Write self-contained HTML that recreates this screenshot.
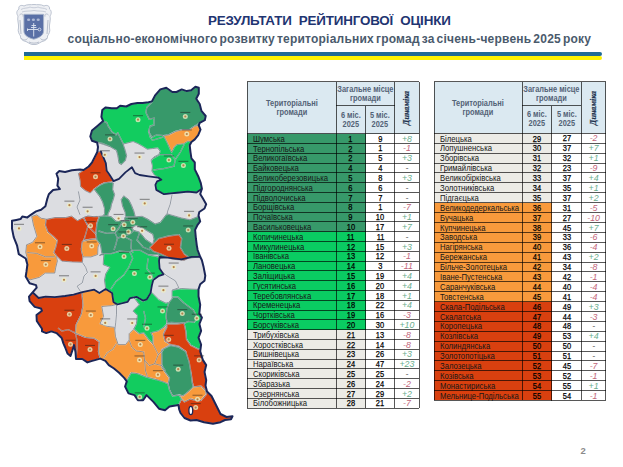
<!DOCTYPE html>
<html><head><meta charset="utf-8">
<style>
html,body{margin:0;padding:0;}
body{width:623px;height:467px;overflow:hidden;background:#fff;position:relative;font-family:"Liberation Sans",sans-serif;}
div{position:absolute;box-sizing:border-box;}
.title{left:208px;top:13.1px;white-space:nowrap;font-weight:bold;color:#1f3572;font-size:13.4px;line-height:16px;letter-spacing:-0.17px;}
.sub{left:67.5px;top:32px;white-space:nowrap;font-weight:bold;color:#4a5a6c;font-size:12px;line-height:14px;letter-spacing:0.22px;word-spacing:-1.6px;}
.hd{background:#dbe9f1;}
.ht{display:flex;align-items:center;justify-content:center;text-align:center;font-weight:bold;font-size:8.8px;line-height:9px;color:#536276;}
.ht span{display:inline-block;white-space:nowrap;transform:scaleX(0.84);}
.dyn{display:flex;align-items:center;justify-content:center;}
.dyn span{transform:rotate(-90deg) scaleX(0.88);font-style:italic;font-weight:bold;font-size:9.2px;color:#22324e;-webkit-text-stroke:0.2px #22324e;font-family:"Liberation Serif",serif;white-space:nowrap;}
.nm{font-size:8.6px;color:#161616;white-space:nowrap;transform:scaleX(0.895);transform-origin:0 50%;}
.n6{text-align:center;font-size:8.8px;color:#000;-webkit-text-stroke:0.25px #000;}
.n6 span,.n5 span{display:inline-block;transform:scaleX(0.85);}
.n5{text-align:center;font-size:8.8px;color:#000;-webkit-text-stroke:0.25px #000;background:#fff;}
.nd{text-align:center;font-size:8.8px;font-style:italic;background:#fff;}
.dp{color:#6aae8e;}
.dm{color:#c2657a;}
.dz{color:#222;}
.vl{width:1px;background:rgba(0,0,0,0.66);}
.hl{height:1px;background:rgba(0,0,0,0.66);}
</style></head><body>
<div class="title">РЕЗУЛЬТАТИ&nbsp; РЕЙТИНГОВОЇ&nbsp; ОЦІНКИ</div>
<div class="sub">соціально-економічного розвитку територіальних громад за січень-червень 2025 року</div>
<div style="left:24px;top:52px;width:578px;height:4px;background:#1f6b95;border-radius:0 2px 2px 0"></div>
<div style="left:24px;top:56px;width:578px;height:4px;background:#fdf200;border-radius:0 2px 2px 0"></div>
<svg style="position:absolute;left:0;top:0" width="60" height="50" viewBox="0 0 60 50">
<path d="M19,9 C18,6 21,4.5 24,6 C27,4 31,5 34,4.5 C37,5 41,4 44,6 C47,4.5 50,6 49.5,9 C52,11 51.5,14 50,16 C51,20 49,24 49.5,28 C50.5,31 49,34 47.5,36 C48,39 45,41 42,41.5 C39,43 37,45 34,44.5 C31,45 29,43 26,41.5 C23,41 20,39 20.5,36 C19,34 17.5,31 18.5,28 C19,24 17,20 18,16 C16.5,14 16,11 19,9 Z" fill="#eef0f4" stroke="#b4bccb" stroke-width="0.9"/>
<path d="M21,9.5 C24,7.5 28,8.5 30,7 C32,8 36,8 38,7 C40,8.5 44,7.5 47,9.5 M22,12 C26,10.5 30,11.5 34,10.5 C38,11.5 42,10.5 46,12" fill="none" stroke="#bcc3d0" stroke-width="0.8"/>
<path d="M19.5,15 C21.5,13 23.5,14 23,16.5 M48.5,15 C46.5,13 44.5,14 45,16.5 M20,20 L21,34 M48,20 L47,34 M21,38 C23,40.5 26,40.5 27.5,38.5 M47,38 C45,40.5 42,40.5 40.5,38.5 M29,42 C31,43.5 37,43.5 39,42" fill="none" stroke="#b0b8c6" stroke-width="0.9"/>
<path d="M23.9,14.3 L43.6,14.3 L43.6,31 C43.6,35.5 39,38 33.75,39.2 C28.5,38 23.9,35.5 23.9,31 Z" fill="#5a70a6" stroke="#a9b5cc" stroke-width="0.9"/>
<ellipse cx="28.6" cy="19.8" rx="1.6" ry="1.2" fill="#aeb9d6"/>
<ellipse cx="33.4" cy="19.8" rx="1.6" ry="1.2" fill="#aeb9d6"/>
<ellipse cx="38.2" cy="19.8" rx="1.6" ry="1.2" fill="#aeb9d6"/>
<path d="M33.7,23 L33.7,36.5 M31.5,25.5 L36,25.5 M31,27.5 L36.5,27.5 M27.5,29.5 L38,29.5 M27.5,28.5 L27.5,31" fill="none" stroke="#dfe5f2" stroke-width="0.9"/>
<circle cx="39.5" cy="29.5" r="1.4" fill="none" stroke="#dfe5f2" stroke-width="0.8"/>
</svg>
<svg style="position:absolute;left:0;top:0" width="623" height="467" viewBox="0 0 623 467">
<defs><clipPath id="ob"><path d="M102.3,110.0 L105.7,107.4 L111.7,108.3 L116.8,108.3 L120.2,105.7 L126.2,106.5 L131.4,104.0 L137.4,103.1 L142.5,103.1 L148.5,102.3 L151.9,101.4 L155.1,95.4 L160.3,89.4 L166.3,87.7 L172.3,92.0 L176.5,92.0 L181.7,89.4 L186.8,91.1 L191.1,90.3 L195.4,86.8 L198.8,87.7 L198.8,93.7 L196.2,98.8 L199.7,104.0 L201.4,110.8 L205.7,116.0 L204.8,120.2 L199.7,122.8 L198.8,125.4 L200.5,129.7 L198.2,135.1 L194.8,139.4 L191.4,142.0 L189.7,145.4 L190.5,152.3 L191.4,158.3 L194.8,162.5 L194.8,169.4 L198.2,176.2 L200.8,183.1 L201.9,188.8 L200.2,194.0 L202.8,198.3 L206.2,204.2 L204.5,208.5 L199.3,212.0 L198.5,215.4 L200.2,221.4 L197.6,224.8 L195.1,229.9 L195.9,238.5 L196.8,245.3 L197.6,250.0 L200.2,256.8 L201.9,260.3 L203.6,267.1 L205.3,275.7 L204.5,280.8 L200.2,284.2 L198.5,289.4 L198.5,296.2 L200.2,304.8 L199.3,313.4 L201.9,317.6 L199.4,324.0 L201.1,330.8 L198.5,337.7 L201.1,344.5 L200.2,351.4 L202.8,359.9 L206.2,365.1 L204.5,371.9 L206.2,380.0 L205.5,385.5 L207.0,391.5 L211.5,396.0 L216.0,405.0 L220.5,414.0 L226.5,417.0 L232.5,416.2 L231.0,419.2 L225.0,420.0 L220.5,422.2 L213.0,423.7 L204.0,422.2 L196.5,420.0 L190.5,420.5 L184.5,418.0 L180.5,413.0 L179.2,409.5 L178.5,405.0 L169.5,406.5 L165.0,410.2 L159.0,408.7 L153.4,401.9 L146.5,395.1 L143.1,400.2 L137.9,400.2 L134.5,395.1 L128.5,393.4 L125.1,386.5 L126.8,381.4 L124.2,377.9 L119.1,372.8 L114.0,368.5 L108.8,365.1 L105.4,360.8 L100.3,358.6 L91.3,361.1 L87.4,362.4 L82.3,359.0 L76.0,359.0 L75.5,352.0 L74.0,345.0 L72.5,350.0 L70.5,356.0 L67.5,353.5 L65.0,347.0 L63.4,343.4 L61.7,338.0 L56.5,333.1 L51.4,331.4 L46.2,333.1 L42.0,331.4 L42.0,328.8 L36.8,321.0 L36.5,315.0 L42.0,310.8 L41.0,308.5 L34.7,306.9 L29.6,301.2 L29.0,296.7 L32.8,292.2 L36.7,287.7 L36.0,285.1 L29.6,283.2 L27.7,280.0 L25.7,276.5 L26.5,271.4 L27.4,264.5 L25.7,258.5 L18.8,254.2 L17.1,245.7 L13.7,237.1 L12.0,228.6 L12.0,220.8 L16.3,219.9 L20.5,219.1 L22.3,216.5 L27.4,217.4 L30.8,214.8 L36.0,211.4 L41.1,209.7 L45.4,206.2 L47.1,199.4 L48.8,194.2 L53.1,190.0 L59.9,189.1 L57.4,185.7 L58.2,178.8 L56.5,173.7 L59.1,171.1 L65.1,172.0 L71.9,170.3 L80.0,169.4 L83.6,170.0 L88.7,166.5 L92.1,162.3 L94.7,157.1 L97.3,152.0 L98.0,147.0 L97.1,142.5 L92.0,140.8 L90.3,136.5 L92.0,130.5 L97.1,126.2 L103.1,121.1 L101.4,116.8Z"/></clipPath></defs>
<path d="M102.3,110.0 L105.7,107.4 L111.7,108.3 L116.8,108.3 L120.2,105.7 L126.2,106.5 L131.4,104.0 L137.4,103.1 L142.5,103.1 L148.5,102.3 L151.9,101.4 L155.1,95.4 L160.3,89.4 L166.3,87.7 L172.3,92.0 L176.5,92.0 L181.7,89.4 L186.8,91.1 L191.1,90.3 L195.4,86.8 L198.8,87.7 L198.8,93.7 L196.2,98.8 L199.7,104.0 L201.4,110.8 L205.7,116.0 L204.8,120.2 L199.7,122.8 L198.8,125.4 L200.5,129.7 L198.2,135.1 L194.8,139.4 L191.4,142.0 L189.7,145.4 L190.5,152.3 L191.4,158.3 L194.8,162.5 L194.8,169.4 L198.2,176.2 L200.8,183.1 L201.9,188.8 L200.2,194.0 L202.8,198.3 L206.2,204.2 L204.5,208.5 L199.3,212.0 L198.5,215.4 L200.2,221.4 L197.6,224.8 L195.1,229.9 L195.9,238.5 L196.8,245.3 L197.6,250.0 L200.2,256.8 L201.9,260.3 L203.6,267.1 L205.3,275.7 L204.5,280.8 L200.2,284.2 L198.5,289.4 L198.5,296.2 L200.2,304.8 L199.3,313.4 L201.9,317.6 L199.4,324.0 L201.1,330.8 L198.5,337.7 L201.1,344.5 L200.2,351.4 L202.8,359.9 L206.2,365.1 L204.5,371.9 L206.2,380.0 L205.5,385.5 L207.0,391.5 L211.5,396.0 L216.0,405.0 L220.5,414.0 L226.5,417.0 L232.5,416.2 L231.0,419.2 L225.0,420.0 L220.5,422.2 L213.0,423.7 L204.0,422.2 L196.5,420.0 L190.5,420.5 L184.5,418.0 L180.5,413.0 L179.2,409.5 L178.5,405.0 L169.5,406.5 L165.0,410.2 L159.0,408.7 L153.4,401.9 L146.5,395.1 L143.1,400.2 L137.9,400.2 L134.5,395.1 L128.5,393.4 L125.1,386.5 L126.8,381.4 L124.2,377.9 L119.1,372.8 L114.0,368.5 L108.8,365.1 L105.4,360.8 L100.3,358.6 L91.3,361.1 L87.4,362.4 L82.3,359.0 L76.0,359.0 L75.5,352.0 L74.0,345.0 L72.5,350.0 L70.5,356.0 L67.5,353.5 L65.0,347.0 L63.4,343.4 L61.7,338.0 L56.5,333.1 L51.4,331.4 L46.2,333.1 L42.0,331.4 L42.0,328.8 L36.8,321.0 L36.5,315.0 L42.0,310.8 L41.0,308.5 L34.7,306.9 L29.6,301.2 L29.0,296.7 L32.8,292.2 L36.7,287.7 L36.0,285.1 L29.6,283.2 L27.7,280.0 L25.7,276.5 L26.5,271.4 L27.4,264.5 L25.7,258.5 L18.8,254.2 L17.1,245.7 L13.7,237.1 L12.0,228.6 L12.0,220.8 L16.3,219.9 L20.5,219.1 L22.3,216.5 L27.4,217.4 L30.8,214.8 L36.0,211.4 L41.1,209.7 L45.4,206.2 L47.1,199.4 L48.8,194.2 L53.1,190.0 L59.9,189.1 L57.4,185.7 L58.2,178.8 L56.5,173.7 L59.1,171.1 L65.1,172.0 L71.9,170.3 L80.0,169.4 L83.6,170.0 L88.7,166.5 L92.1,162.3 L94.7,157.1 L97.3,152.0 L98.0,147.0 L97.1,142.5 L92.0,140.8 L90.3,136.5 L92.0,130.5 L97.1,126.2 L103.1,121.1 L101.4,116.8Z" fill="#dcdde1" stroke="none"/>
<g clip-path="url(#ob)">
<path d="M102.3,110.0 L105.7,107.4 L111.7,108.3 L116.8,108.3 L120.2,105.7 L126.2,106.5 L131.4,104.0 L137.4,103.1 L142.5,103.1 L148.5,102.3 L151.9,101.4 L160.0,95.0 L206.0,118.0 L201.0,130.0 L195.0,140.0 L189.0,146.0 L191.0,158.0 L195.0,163.0 L195.0,170.0 L199.0,177.0 L202.0,184.0 L202.5,189.0 L196.5,192.5 L187.9,191.6 L179.4,192.5 L170.8,193.4 L164.0,194.2 L156.3,189.9 L155.4,184.8 L157.1,181.4 L161.4,179.7 L158.8,178.2 L154.3,175.0 L151.8,171.1 L152.4,166.0 L151.1,160.8 L153.7,157.0 L158.8,154.4 L160.1,151.2 L157.6,148.0 L152.4,148.6 L147.3,149.3 L142.1,146.1 L137.6,143.5 L133.1,141.6 L128.0,142.9 L123.5,144.1 L110.0,146.7 L92.0,140.8 L90.3,136.5 L92.0,130.5 L97.1,126.2 L103.1,121.1 L101.4,116.8Z" fill="#12cc5f" stroke="none"/>
<path d="M102.3,110.0 L105.7,107.4 L111.7,108.3 L116.8,108.3 L120.2,105.7 L126.2,106.5 L131.4,104.0 L137.4,103.1 L142.5,103.1 L148.5,102.3 L151.9,101.4 L160.0,95.0 L206.0,118.0 L201.0,130.0 L195.0,140.0 L189.0,146.0 L191.0,158.0 L195.0,163.0 L195.0,170.0 L199.0,177.0 L202.0,184.0 L202.5,189.0 L196.5,192.5 L187.9,191.6 L179.4,192.5 L170.8,193.4 L164.0,194.2 L156.3,189.9 L155.4,184.8 L157.1,181.4 L161.4,179.7 L158.8,178.2 L154.3,175.0 L151.8,171.1 L152.4,166.0 L151.1,160.8 L153.7,157.0 L158.8,154.4 L160.1,151.2 L157.6,148.0 L152.4,148.6 L147.3,149.3 L142.1,146.1 L137.6,143.5 L133.1,141.6 L128.0,142.9 L123.5,144.1 L110.0,146.7 L92.0,140.8 L90.3,136.5 L92.0,130.5 L97.1,126.2 L103.1,121.1 L101.4,116.8Z" fill="none" stroke="#ffffff" stroke-opacity="0.55" stroke-width="1.3" stroke-linejoin="round"/>
<path d="M102.3,110.0 L105.7,107.4 L111.7,108.3 L116.8,108.3 L120.2,105.7 L126.2,106.5 L131.4,104.0 L137.4,103.1 L142.5,103.1 L148.5,102.3 L151.9,101.4 L160.0,95.0 L206.0,118.0 L201.0,130.0 L195.0,140.0 L189.0,146.0 L191.0,158.0 L195.0,163.0 L195.0,170.0 L199.0,177.0 L202.0,184.0 L202.5,189.0 L196.5,192.5 L187.9,191.6 L179.4,192.5 L170.8,193.4 L164.0,194.2 L156.3,189.9 L155.4,184.8 L157.1,181.4 L161.4,179.7 L158.8,178.2 L154.3,175.0 L151.8,171.1 L152.4,166.0 L151.1,160.8 L153.7,157.0 L158.8,154.4 L160.1,151.2 L157.6,148.0 L152.4,148.6 L147.3,149.3 L142.1,146.1 L137.6,143.5 L133.1,141.6 L128.0,142.9 L123.5,144.1 L110.0,146.7 L92.0,140.8 L90.3,136.5 L92.0,130.5 L97.1,126.2 L103.1,121.1 L101.4,116.8Z" fill="none" stroke="#56606e" stroke-width="0.6" stroke-linejoin="round"/>
<path d="M150.0,100.5 L155.1,95.4 L160.3,89.4 L166.3,87.7 L172.3,92.0 L176.5,92.0 L181.7,89.4 L186.8,91.1 L191.1,90.3 L195.4,86.8 L198.8,87.7 L198.8,93.7 L196.2,98.8 L199.7,104.0 L201.4,110.8 L205.7,116.0 L204.8,120.2 L199.7,122.8 L194.5,126.2 L189.4,129.7 L182.5,129.7 L175.7,131.4 L168.8,134.8 L163.7,135.7 L156.8,134.8 L151.9,137.4 L148.5,131.4 L150.2,126.0 L154.0,125.0 L154.0,118.0 L149.3,119.4 L145.9,112.5 L146.8,107.4 L151.9,102.3Z" fill="#37996a" stroke="none"/>
<path d="M150.0,100.5 L155.1,95.4 L160.3,89.4 L166.3,87.7 L172.3,92.0 L176.5,92.0 L181.7,89.4 L186.8,91.1 L191.1,90.3 L195.4,86.8 L198.8,87.7 L198.8,93.7 L196.2,98.8 L199.7,104.0 L201.4,110.8 L205.7,116.0 L204.8,120.2 L199.7,122.8 L194.5,126.2 L189.4,129.7 L182.5,129.7 L175.7,131.4 L168.8,134.8 L163.7,135.7 L156.8,134.8 L151.9,137.4 L148.5,131.4 L150.2,126.0 L154.0,125.0 L154.0,118.0 L149.3,119.4 L145.9,112.5 L146.8,107.4 L151.9,102.3Z" fill="none" stroke="#ffffff" stroke-opacity="0.55" stroke-width="1.3" stroke-linejoin="round"/>
<path d="M150.0,100.5 L155.1,95.4 L160.3,89.4 L166.3,87.7 L172.3,92.0 L176.5,92.0 L181.7,89.4 L186.8,91.1 L191.1,90.3 L195.4,86.8 L198.8,87.7 L198.8,93.7 L196.2,98.8 L199.7,104.0 L201.4,110.8 L205.7,116.0 L204.8,120.2 L199.7,122.8 L194.5,126.2 L189.4,129.7 L182.5,129.7 L175.7,131.4 L168.8,134.8 L163.7,135.7 L156.8,134.8 L151.9,137.4 L148.5,131.4 L150.2,126.0 L154.0,125.0 L154.0,118.0 L149.3,119.4 L145.9,112.5 L146.8,107.4 L151.9,102.3Z" fill="none" stroke="#56606e" stroke-width="0.6" stroke-linejoin="round"/>
<path d="M198.8,125.4 L200.5,129.7 L198.2,135.1 L194.8,139.4 L191.4,142.0 L187.9,141.1 L183.7,143.7 L176.8,144.6 L174.2,147.1 L171.7,152.3 L170.0,148.8 L167.4,142.8 L163.7,135.7 L168.8,134.8 L175.7,131.4 L182.5,129.7 L189.4,129.7 L194.5,126.2Z" fill="#f89a3c" stroke="none"/>
<path d="M198.8,125.4 L200.5,129.7 L198.2,135.1 L194.8,139.4 L191.4,142.0 L187.9,141.1 L183.7,143.7 L176.8,144.6 L174.2,147.1 L171.7,152.3 L170.0,148.8 L167.4,142.8 L163.7,135.7 L168.8,134.8 L175.7,131.4 L182.5,129.7 L189.4,129.7 L194.5,126.2Z" fill="none" stroke="#ffffff" stroke-opacity="0.55" stroke-width="1.3" stroke-linejoin="round"/>
<path d="M198.8,125.4 L200.5,129.7 L198.2,135.1 L194.8,139.4 L191.4,142.0 L187.9,141.1 L183.7,143.7 L176.8,144.6 L174.2,147.1 L171.7,152.3 L170.0,148.8 L167.4,142.8 L163.7,135.7 L168.8,134.8 L175.7,131.4 L182.5,129.7 L189.4,129.7 L194.5,126.2Z" fill="none" stroke="#56606e" stroke-width="0.6" stroke-linejoin="round"/>
<path d="M103.1,121.1 L106.7,122.3 L108.3,126.2 L111.7,131.4 L116.0,134.8 L117.7,132.6 L120.3,137.7 L122.9,142.9 L125.4,150.6 L126.7,155.7 L125.4,160.8 L121.6,164.7 L119.0,163.4 L117.7,155.7 L116.4,150.6 L110.0,146.7 L102.3,143.4 L97.1,142.5 L92.0,140.8 L90.3,136.5 L92.0,130.5 L97.1,126.2Z" fill="#37996a" stroke="none"/>
<path d="M103.1,121.1 L106.7,122.3 L108.3,126.2 L111.7,131.4 L116.0,134.8 L117.7,132.6 L120.3,137.7 L122.9,142.9 L125.4,150.6 L126.7,155.7 L125.4,160.8 L121.6,164.7 L119.0,163.4 L117.7,155.7 L116.4,150.6 L110.0,146.7 L102.3,143.4 L97.1,142.5 L92.0,140.8 L90.3,136.5 L92.0,130.5 L97.1,126.2Z" fill="none" stroke="#ffffff" stroke-opacity="0.55" stroke-width="1.3" stroke-linejoin="round"/>
<path d="M103.1,121.1 L106.7,122.3 L108.3,126.2 L111.7,131.4 L116.0,134.8 L117.7,132.6 L120.3,137.7 L122.9,142.9 L125.4,150.6 L126.7,155.7 L125.4,160.8 L121.6,164.7 L119.0,163.4 L117.7,155.7 L116.4,150.6 L110.0,146.7 L102.3,143.4 L97.1,142.5 L92.0,140.8 L90.3,136.5 L92.0,130.5 L97.1,126.2Z" fill="none" stroke="#56606e" stroke-width="0.6" stroke-linejoin="round"/>
<path d="M97.3,152.0 L100.7,151.1 L103.3,157.1 L105.8,163.1 L106.7,170.8 L109.2,174.2 L111.8,178.5 L113.5,181.1 L110.8,182.2 L104.4,182.9 L99.3,185.4 L94.1,189.3 L90.3,193.1 L85.1,190.6 L80.5,186.7 L80.1,181.1 L78.4,173.4 L83.6,170.0 L88.7,166.5 L92.1,162.3 L94.7,157.1Z" fill="#d9400f" stroke="none"/>
<path d="M97.3,152.0 L100.7,151.1 L103.3,157.1 L105.8,163.1 L106.7,170.8 L109.2,174.2 L111.8,178.5 L113.5,181.1 L110.8,182.2 L104.4,182.9 L99.3,185.4 L94.1,189.3 L90.3,193.1 L85.1,190.6 L80.5,186.7 L80.1,181.1 L78.4,173.4 L83.6,170.0 L88.7,166.5 L92.1,162.3 L94.7,157.1Z" fill="none" stroke="#ffffff" stroke-opacity="0.55" stroke-width="1.3" stroke-linejoin="round"/>
<path d="M97.3,152.0 L100.7,151.1 L103.3,157.1 L105.8,163.1 L106.7,170.8 L109.2,174.2 L111.8,178.5 L113.5,181.1 L110.8,182.2 L104.4,182.9 L99.3,185.4 L94.1,189.3 L90.3,193.1 L85.1,190.6 L80.5,186.7 L80.1,181.1 L78.4,173.4 L83.6,170.0 L88.7,166.5 L92.1,162.3 L94.7,157.1Z" fill="none" stroke="#56606e" stroke-width="0.6" stroke-linejoin="round"/>
<path d="M94.1,189.3 L99.3,185.4 L104.4,182.9 L110.8,182.2 L113.4,182.9 L112.8,189.3 L114.7,194.4 L113.4,199.6 L111.5,204.7 L110.8,208.6 L108.3,213.7 L107.6,217.6 L100.6,218.8 L104.4,213.7 L104.4,208.6 L102.5,202.1 L99.9,197.0 L95.4,191.2Z" fill="#37996a" stroke="none"/>
<path d="M94.1,189.3 L99.3,185.4 L104.4,182.9 L110.8,182.2 L113.4,182.9 L112.8,189.3 L114.7,194.4 L113.4,199.6 L111.5,204.7 L110.8,208.6 L108.3,213.7 L107.6,217.6 L100.6,218.8 L104.4,213.7 L104.4,208.6 L102.5,202.1 L99.9,197.0 L95.4,191.2Z" fill="none" stroke="#ffffff" stroke-opacity="0.55" stroke-width="1.3" stroke-linejoin="round"/>
<path d="M94.1,189.3 L99.3,185.4 L104.4,182.9 L110.8,182.2 L113.4,182.9 L112.8,189.3 L114.7,194.4 L113.4,199.6 L111.5,204.7 L110.8,208.6 L108.3,213.7 L107.6,217.6 L100.6,218.8 L104.4,213.7 L104.4,208.6 L102.5,202.1 L99.9,197.0 L95.4,191.2Z" fill="none" stroke="#56606e" stroke-width="0.6" stroke-linejoin="round"/>
<path d="M123.7,195.7 L128.8,199.6 L131.4,204.7 L133.9,210.9 L135.6,217.5 L125.5,218.5 L125.0,212.4 L122.4,206.0 L121.1,199.6Z" fill="#37996a" stroke="none"/>
<path d="M123.7,195.7 L128.8,199.6 L131.4,204.7 L133.9,210.9 L135.6,217.5 L125.5,218.5 L125.0,212.4 L122.4,206.0 L121.1,199.6Z" fill="none" stroke="#ffffff" stroke-opacity="0.55" stroke-width="1.3" stroke-linejoin="round"/>
<path d="M123.7,195.7 L128.8,199.6 L131.4,204.7 L133.9,210.9 L135.6,217.5 L125.5,218.5 L125.0,212.4 L122.4,206.0 L121.1,199.6Z" fill="none" stroke="#56606e" stroke-width="0.6" stroke-linejoin="round"/>
<path d="M31.7,216.5 L33.4,225.0 L36.8,236.3 L32.5,242.3 L26.5,244.8 L25.7,252.5 L27.4,258.5 L26.5,271.4 L25.7,276.5 L30.0,279.9 L39.4,277.4 L45.4,273.1 L54.8,273.1 L55.7,267.9 L57.4,261.1 L56.5,256.0 L53.9,252.5 L55.7,247.4 L57.4,240.5 L53.1,236.3 L47.9,232.0 L45.4,225.1 L46.2,219.1 L41.1,218.2 L36.8,214.8Z" fill="#f89a3c" stroke="none"/>
<path d="M31.7,216.5 L33.4,225.0 L36.8,236.3 L32.5,242.3 L26.5,244.8 L25.7,252.5 L27.4,258.5 L26.5,271.4 L25.7,276.5 L30.0,279.9 L39.4,277.4 L45.4,273.1 L54.8,273.1 L55.7,267.9 L57.4,261.1 L56.5,256.0 L53.9,252.5 L55.7,247.4 L57.4,240.5 L53.1,236.3 L47.9,232.0 L45.4,225.1 L46.2,219.1 L41.1,218.2 L36.8,214.8Z" fill="none" stroke="#ffffff" stroke-opacity="0.55" stroke-width="1.3" stroke-linejoin="round"/>
<path d="M31.7,216.5 L33.4,225.0 L36.8,236.3 L32.5,242.3 L26.5,244.8 L25.7,252.5 L27.4,258.5 L26.5,271.4 L25.7,276.5 L30.0,279.9 L39.4,277.4 L45.4,273.1 L54.8,273.1 L55.7,267.9 L57.4,261.1 L56.5,256.0 L53.9,252.5 L55.7,247.4 L57.4,240.5 L53.1,236.3 L47.9,232.0 L45.4,225.1 L46.2,219.1 L41.1,218.2 L36.8,214.8Z" fill="none" stroke="#56606e" stroke-width="0.6" stroke-linejoin="round"/>
<path d="M46.2,219.1 L47.5,219.0 L55.0,217.5 L65.5,217.5 L71.5,216.0 L77.5,220.5 L83.5,217.5 L88.0,216.0 L94.0,216.7 L96.8,216.3 L96.0,225.0 L90.0,226.0 L82.3,243.4 L81.4,248.6 L83.1,256.3 L82.3,262.3 L71.9,262.0 L61.6,261.1 L56.5,256.0 L53.9,252.5 L55.7,247.4 L57.4,240.5 L53.1,236.3 L47.9,232.0 L45.4,225.1Z" fill="#d9400f" stroke="none"/>
<path d="M46.2,219.1 L47.5,219.0 L55.0,217.5 L65.5,217.5 L71.5,216.0 L77.5,220.5 L83.5,217.5 L88.0,216.0 L94.0,216.7 L96.8,216.3 L96.0,225.0 L90.0,226.0 L82.3,243.4 L81.4,248.6 L83.1,256.3 L82.3,262.3 L71.9,262.0 L61.6,261.1 L56.5,256.0 L53.9,252.5 L55.7,247.4 L57.4,240.5 L53.1,236.3 L47.9,232.0 L45.4,225.1Z" fill="none" stroke="#ffffff" stroke-opacity="0.55" stroke-width="1.3" stroke-linejoin="round"/>
<path d="M46.2,219.1 L47.5,219.0 L55.0,217.5 L65.5,217.5 L71.5,216.0 L77.5,220.5 L83.5,217.5 L88.0,216.0 L94.0,216.7 L96.8,216.3 L96.0,225.0 L90.0,226.0 L82.3,243.4 L81.4,248.6 L83.1,256.3 L82.3,262.3 L71.9,262.0 L61.6,261.1 L56.5,256.0 L53.9,252.5 L55.7,247.4 L57.4,240.5 L53.1,236.3 L47.9,232.0 L45.4,225.1Z" fill="none" stroke="#56606e" stroke-width="0.6" stroke-linejoin="round"/>
<path d="M83.5,217.5 L88.0,216.0 L94.0,216.7 L99.4,216.3 L96.8,224.0 L96.0,234.2 L96.5,239.0 L90.0,239.5 L84.0,240.0 L88.0,226.0Z" fill="#d9400f" stroke="none"/>
<path d="M83.5,217.5 L88.0,216.0 L94.0,216.7 L99.4,216.3 L96.8,224.0 L96.0,234.2 L96.5,239.0 L90.0,239.5 L84.0,240.0 L88.0,226.0Z" fill="none" stroke="#ffffff" stroke-opacity="0.55" stroke-width="1.3" stroke-linejoin="round"/>
<path d="M83.5,217.5 L88.0,216.0 L94.0,216.7 L99.4,216.3 L96.8,224.0 L96.0,234.2 L96.5,239.0 L90.0,239.5 L84.0,240.0 L88.0,226.0Z" fill="none" stroke="#56606e" stroke-width="0.6" stroke-linejoin="round"/>
<path d="M82.3,241.5 L90.0,239.5 L96.5,239.0 L100.2,242.0 L98.0,247.0 L97.7,254.6 L90.8,257.0 L83.1,257.0 L81.4,250.0Z" fill="#f89a3c" stroke="none"/>
<path d="M82.3,241.5 L90.0,239.5 L96.5,239.0 L100.2,242.0 L98.0,247.0 L97.7,254.6 L90.8,257.0 L83.1,257.0 L81.4,250.0Z" fill="none" stroke="#ffffff" stroke-opacity="0.55" stroke-width="1.3" stroke-linejoin="round"/>
<path d="M82.3,241.5 L90.0,239.5 L96.5,239.0 L100.2,242.0 L98.0,247.0 L97.7,254.6 L90.8,257.0 L83.1,257.0 L81.4,250.0Z" fill="none" stroke="#56606e" stroke-width="0.6" stroke-linejoin="round"/>
<path d="M99.4,216.3 L106.8,215.6 L111.5,216.8 L116.0,221.0 L124.0,220.5 L125.0,217.0 L135.6,216.8 L142.1,216.2 L148.0,219.1 L155.1,223.8 L160.2,222.3 L166.8,213.7 L172.8,215.4 L181.4,217.9 L189.9,219.7 L198.5,216.2 L200.2,221.4 L197.6,224.8 L195.1,229.9 L195.9,238.5 L196.8,245.3 L197.6,250.0 L200.2,256.8 L181.4,259.4 L167.7,257.7 L160.0,258.6 L158.5,254.8 L148.2,254.8 L141.4,253.1 L134.5,251.4 L129.4,253.1 L119.1,251.4 L110.5,254.8 L102.0,254.8 L100.3,244.5 L96.8,240.2 L96.0,234.2 L96.8,224.0Z" fill="#37996a" stroke="none"/>
<path d="M99.4,216.3 L106.8,215.6 L111.5,216.8 L116.0,221.0 L124.0,220.5 L125.0,217.0 L135.6,216.8 L142.1,216.2 L148.0,219.1 L155.1,223.8 L160.2,222.3 L166.8,213.7 L172.8,215.4 L181.4,217.9 L189.9,219.7 L198.5,216.2 L200.2,221.4 L197.6,224.8 L195.1,229.9 L195.9,238.5 L196.8,245.3 L197.6,250.0 L200.2,256.8 L181.4,259.4 L167.7,257.7 L160.0,258.6 L158.5,254.8 L148.2,254.8 L141.4,253.1 L134.5,251.4 L129.4,253.1 L119.1,251.4 L110.5,254.8 L102.0,254.8 L100.3,244.5 L96.8,240.2 L96.0,234.2 L96.8,224.0Z" fill="none" stroke="#ffffff" stroke-opacity="0.55" stroke-width="1.3" stroke-linejoin="round"/>
<path d="M99.4,216.3 L106.8,215.6 L111.5,216.8 L116.0,221.0 L124.0,220.5 L125.0,217.0 L135.6,216.8 L142.1,216.2 L148.0,219.1 L155.1,223.8 L160.2,222.3 L166.8,213.7 L172.8,215.4 L181.4,217.9 L189.9,219.7 L198.5,216.2 L200.2,221.4 L197.6,224.8 L195.1,229.9 L195.9,238.5 L196.8,245.3 L197.6,250.0 L200.2,256.8 L181.4,259.4 L167.7,257.7 L160.0,258.6 L158.5,254.8 L148.2,254.8 L141.4,253.1 L134.5,251.4 L129.4,253.1 L119.1,251.4 L110.5,254.8 L102.0,254.8 L100.3,244.5 L96.8,240.2 L96.0,234.2 L96.8,224.0Z" fill="none" stroke="#56606e" stroke-width="0.6" stroke-linejoin="round"/>
<path d="M131.5,227.4 L136.2,225.6 L142.1,228.0 L148.0,231.5 L152.7,234.4 L153.9,239.2 L152.7,243.9 L145.6,239.2 L139.8,232.1 L133.9,230.3Z" fill="#dcdde1" stroke="none"/>
<path d="M131.5,227.4 L136.2,225.6 L142.1,228.0 L148.0,231.5 L152.7,234.4 L153.9,239.2 L152.7,243.9 L145.6,239.2 L139.8,232.1 L133.9,230.3Z" fill="none" stroke="#ffffff" stroke-opacity="0.55" stroke-width="1.3" stroke-linejoin="round"/>
<path d="M131.5,227.4 L136.2,225.6 L142.1,228.0 L148.0,231.5 L152.7,234.4 L153.9,239.2 L152.7,243.9 L145.6,239.2 L139.8,232.1 L133.9,230.3Z" fill="none" stroke="#56606e" stroke-width="0.6" stroke-linejoin="round"/>
<path d="M149.6,247.6 L158.6,238.6 L168.8,236.0 L179.1,234.7 L181.7,238.6 L180.4,247.6 L184.3,254.0 L189.4,257.8 L184.3,260.4 L171.4,259.1 L161.1,254.0 L153.4,251.4Z" fill="#d9400f" stroke="none"/>
<path d="M149.6,247.6 L158.6,238.6 L168.8,236.0 L179.1,234.7 L181.7,238.6 L180.4,247.6 L184.3,254.0 L189.4,257.8 L184.3,260.4 L171.4,259.1 L161.1,254.0 L153.4,251.4Z" fill="none" stroke="#ffffff" stroke-opacity="0.55" stroke-width="1.3" stroke-linejoin="round"/>
<path d="M149.6,247.6 L158.6,238.6 L168.8,236.0 L179.1,234.7 L181.7,238.6 L180.4,247.6 L184.3,254.0 L189.4,257.8 L184.3,260.4 L171.4,259.1 L161.1,254.0 L153.4,251.4Z" fill="none" stroke="#56606e" stroke-width="0.6" stroke-linejoin="round"/>
<path d="M99.4,255.4 L102.8,253.7 L111.4,253.7 L119.9,251.1 L128.5,252.0 L133.6,250.3 L140.0,250.3 L148.2,254.8 L159.6,257.0 L159.0,260.8 L159.6,268.5 L163.5,274.3 L158.3,276.2 L153.2,280.1 L151.9,285.2 L150.6,292.9 L146.8,299.3 L142.9,300.6 L136.5,296.8 L130.1,298.1 L127.5,301.9 L117.3,304.5 L113.4,301.9 L112.1,292.9 L105.7,289.1 L104.4,280.1 L105.7,273.7 L109.6,267.3 L103.1,264.7 L103.8,254.4Z" fill="#12cc5f" stroke="none"/>
<path d="M99.4,255.4 L102.8,253.7 L111.4,253.7 L119.9,251.1 L128.5,252.0 L133.6,250.3 L140.0,250.3 L148.2,254.8 L159.6,257.0 L159.0,260.8 L159.6,268.5 L163.5,274.3 L158.3,276.2 L153.2,280.1 L151.9,285.2 L150.6,292.9 L146.8,299.3 L142.9,300.6 L136.5,296.8 L130.1,298.1 L127.5,301.9 L117.3,304.5 L113.4,301.9 L112.1,292.9 L105.7,289.1 L104.4,280.1 L105.7,273.7 L109.6,267.3 L103.1,264.7 L103.8,254.4Z" fill="none" stroke="#ffffff" stroke-opacity="0.55" stroke-width="1.3" stroke-linejoin="round"/>
<path d="M99.4,255.4 L102.8,253.7 L111.4,253.7 L119.9,251.1 L128.5,252.0 L133.6,250.3 L140.0,250.3 L148.2,254.8 L159.6,257.0 L159.0,260.8 L159.6,268.5 L163.5,274.3 L158.3,276.2 L153.2,280.1 L151.9,285.2 L150.6,292.9 L146.8,299.3 L142.9,300.6 L136.5,296.8 L130.1,298.1 L127.5,301.9 L117.3,304.5 L113.4,301.9 L112.1,292.9 L105.7,289.1 L104.4,280.1 L105.7,273.7 L109.6,267.3 L103.1,264.7 L103.8,254.4Z" fill="none" stroke="#56606e" stroke-width="0.6" stroke-linejoin="round"/>
<path d="M32.8,292.5 L38.6,298.0 L45.6,296.7 L54.8,297.2 L65.1,296.0 L73.6,294.6 L82.3,292.2 L82.3,296.3 L83.1,305.7 L81.4,314.2 L76.3,324.5 L75.4,333.1 L85.7,337.4 L94.2,338.2 L99.4,341.6 L98.5,351.9 L100.3,358.6 L91.3,361.1 L87.4,362.4 L82.3,359.0 L76.0,359.0 L75.5,352.0 L74.0,345.0 L72.5,350.0 L70.5,356.0 L67.5,353.5 L65.0,347.0 L63.4,343.4 L61.7,338.0 L56.5,333.1 L51.4,331.4 L46.2,333.1 L42.0,331.4 L42.0,328.8 L36.8,321.0 L36.5,315.0 L42.0,310.8 L41.0,308.5 L34.7,306.9 L29.6,301.2 L29.0,296.7Z" fill="#d9400f" stroke="none"/>
<path d="M32.8,292.5 L38.6,298.0 L45.6,296.7 L54.8,297.2 L65.1,296.0 L73.6,294.6 L82.3,292.2 L82.3,296.3 L83.1,305.7 L81.4,314.2 L76.3,324.5 L75.4,333.1 L85.7,337.4 L94.2,338.2 L99.4,341.6 L98.5,351.9 L100.3,358.6 L91.3,361.1 L87.4,362.4 L82.3,359.0 L76.0,359.0 L75.5,352.0 L74.0,345.0 L72.5,350.0 L70.5,356.0 L67.5,353.5 L65.0,347.0 L63.4,343.4 L61.7,338.0 L56.5,333.1 L51.4,331.4 L46.2,333.1 L42.0,331.4 L42.0,328.8 L36.8,321.0 L36.5,315.0 L42.0,310.8 L41.0,308.5 L34.7,306.9 L29.6,301.2 L29.0,296.7Z" fill="none" stroke="#ffffff" stroke-opacity="0.55" stroke-width="1.3" stroke-linejoin="round"/>
<path d="M32.8,292.5 L38.6,298.0 L45.6,296.7 L54.8,297.2 L65.1,296.0 L73.6,294.6 L82.3,292.2 L82.3,296.3 L83.1,305.7 L81.4,314.2 L76.3,324.5 L75.4,333.1 L85.7,337.4 L94.2,338.2 L99.4,341.6 L98.5,351.9 L100.3,358.6 L91.3,361.1 L87.4,362.4 L82.3,359.0 L76.0,359.0 L75.5,352.0 L74.0,345.0 L72.5,350.0 L70.5,356.0 L67.5,353.5 L65.0,347.0 L63.4,343.4 L61.7,338.0 L56.5,333.1 L51.4,331.4 L46.2,333.1 L42.0,331.4 L42.0,328.8 L36.8,321.0 L36.5,315.0 L42.0,310.8 L41.0,308.5 L34.7,306.9 L29.6,301.2 L29.0,296.7Z" fill="none" stroke="#56606e" stroke-width="0.6" stroke-linejoin="round"/>
<path d="M82.3,292.2 L94.2,289.7 L99.4,293.1 L105.7,289.1 L112.1,292.9 L113.4,301.9 L116.5,304.5 L111.4,305.7 L101.8,306.5 L103.6,316.4 L100.0,323.7 L107.3,326.4 L114.6,327.3 L115.5,336.4 L118.2,344.6 L125.5,344.6 L129.1,340.1 L129.1,333.7 L133.7,329.1 L139.2,333.7 L143.7,332.8 L148.3,339.2 L152.8,343.7 L152.8,336.4 L151.0,332.8 L158.3,330.0 L166.5,326.4 L163.4,334.2 L165.1,341.1 L170.3,344.5 L161.7,349.7 L162.0,367.5 L165.0,372.0 L169.5,378.0 L168.0,384.0 L165.0,382.5 L156.0,379.5 L146.5,377.1 L137.9,373.7 L131.1,372.8 L126.8,380.5 L124.2,377.9 L119.1,372.8 L114.0,368.5 L108.8,365.1 L105.4,360.8 L100.3,358.6 L98.5,351.9 L99.4,341.6 L94.2,338.2 L85.7,337.4 L75.4,333.1 L76.3,324.5 L81.4,314.2 L83.1,305.7 L82.3,296.3Z" fill="#f89a3c" stroke="none"/>
<path d="M82.3,292.2 L94.2,289.7 L99.4,293.1 L105.7,289.1 L112.1,292.9 L113.4,301.9 L116.5,304.5 L111.4,305.7 L101.8,306.5 L103.6,316.4 L100.0,323.7 L107.3,326.4 L114.6,327.3 L115.5,336.4 L118.2,344.6 L125.5,344.6 L129.1,340.1 L129.1,333.7 L133.7,329.1 L139.2,333.7 L143.7,332.8 L148.3,339.2 L152.8,343.7 L152.8,336.4 L151.0,332.8 L158.3,330.0 L166.5,326.4 L163.4,334.2 L165.1,341.1 L170.3,344.5 L161.7,349.7 L162.0,367.5 L165.0,372.0 L169.5,378.0 L168.0,384.0 L165.0,382.5 L156.0,379.5 L146.5,377.1 L137.9,373.7 L131.1,372.8 L126.8,380.5 L124.2,377.9 L119.1,372.8 L114.0,368.5 L108.8,365.1 L105.4,360.8 L100.3,358.6 L98.5,351.9 L99.4,341.6 L94.2,338.2 L85.7,337.4 L75.4,333.1 L76.3,324.5 L81.4,314.2 L83.1,305.7 L82.3,296.3Z" fill="none" stroke="#ffffff" stroke-opacity="0.55" stroke-width="1.3" stroke-linejoin="round"/>
<path d="M82.3,292.2 L94.2,289.7 L99.4,293.1 L105.7,289.1 L112.1,292.9 L113.4,301.9 L116.5,304.5 L111.4,305.7 L101.8,306.5 L103.6,316.4 L100.0,323.7 L107.3,326.4 L114.6,327.3 L115.5,336.4 L118.2,344.6 L125.5,344.6 L129.1,340.1 L129.1,333.7 L133.7,329.1 L139.2,333.7 L143.7,332.8 L148.3,339.2 L152.8,343.7 L152.8,336.4 L151.0,332.8 L158.3,330.0 L166.5,326.4 L163.4,334.2 L165.1,341.1 L170.3,344.5 L161.7,349.7 L162.0,367.5 L165.0,372.0 L169.5,378.0 L168.0,384.0 L165.0,382.5 L156.0,379.5 L146.5,377.1 L137.9,373.7 L131.1,372.8 L126.8,380.5 L124.2,377.9 L119.1,372.8 L114.0,368.5 L108.8,365.1 L105.4,360.8 L100.3,358.6 L98.5,351.9 L99.4,341.6 L94.2,338.2 L85.7,337.4 L75.4,333.1 L76.3,324.5 L81.4,314.2 L83.1,305.7 L82.3,296.3Z" fill="none" stroke="#56606e" stroke-width="0.6" stroke-linejoin="round"/>
<path d="M133.4,297.1 L138.6,298.0 L142.8,301.4 L146.8,299.3 L150.6,292.9 L152.3,292.8 L159.1,299.7 L166.0,303.1 L172.0,301.4 L169.4,304.8 L167.7,311.6 L166.8,318.5 L166.8,324.0 L163.8,327.3 L158.3,331.0 L151.0,332.8 L152.8,336.4 L152.8,343.7 L148.3,339.2 L143.7,332.8 L139.2,333.7 L133.7,329.1 L136.4,323.7 L137.3,315.5 L132.8,310.9 L139.2,304.6Z" fill="#12cc5f" stroke="none"/>
<path d="M133.4,297.1 L138.6,298.0 L142.8,301.4 L146.8,299.3 L150.6,292.9 L152.3,292.8 L159.1,299.7 L166.0,303.1 L172.0,301.4 L169.4,304.8 L167.7,311.6 L166.8,318.5 L166.8,324.0 L163.8,327.3 L158.3,331.0 L151.0,332.8 L152.8,336.4 L152.8,343.7 L148.3,339.2 L143.7,332.8 L139.2,333.7 L133.7,329.1 L136.4,323.7 L137.3,315.5 L132.8,310.9 L139.2,304.6Z" fill="none" stroke="#ffffff" stroke-opacity="0.55" stroke-width="1.3" stroke-linejoin="round"/>
<path d="M133.4,297.1 L138.6,298.0 L142.8,301.4 L146.8,299.3 L150.6,292.9 L152.3,292.8 L159.1,299.7 L166.0,303.1 L172.0,301.4 L169.4,304.8 L167.7,311.6 L166.8,318.5 L166.8,324.0 L163.8,327.3 L158.3,331.0 L151.0,332.8 L152.8,336.4 L152.8,343.7 L148.3,339.2 L143.7,332.8 L139.2,333.7 L133.7,329.1 L136.4,323.7 L137.3,315.5 L132.8,310.9 L139.2,304.6Z" fill="none" stroke="#56606e" stroke-width="0.6" stroke-linejoin="round"/>
<path d="M172.0,290.2 L181.4,288.5 L198.5,289.4 L198.5,296.2 L200.2,304.8 L199.3,313.4 L201.9,317.6 L199.4,324.0 L201.1,330.8 L198.5,337.7 L201.1,344.5 L200.2,349.7 L197.7,348.8 L190.8,345.4 L186.5,339.4 L185.7,330.8 L184.0,323.1 L177.1,324.0 L166.8,324.0 L166.8,318.5 L167.7,311.6 L169.4,304.8 L172.0,301.4Z" fill="#12cc5f" stroke="none"/>
<path d="M172.0,290.2 L181.4,288.5 L198.5,289.4 L198.5,296.2 L200.2,304.8 L199.3,313.4 L201.9,317.6 L199.4,324.0 L201.1,330.8 L198.5,337.7 L201.1,344.5 L200.2,349.7 L197.7,348.8 L190.8,345.4 L186.5,339.4 L185.7,330.8 L184.0,323.1 L177.1,324.0 L166.8,324.0 L166.8,318.5 L167.7,311.6 L169.4,304.8 L172.0,301.4Z" fill="none" stroke="#ffffff" stroke-opacity="0.55" stroke-width="1.3" stroke-linejoin="round"/>
<path d="M172.0,290.2 L181.4,288.5 L198.5,289.4 L198.5,296.2 L200.2,304.8 L199.3,313.4 L201.9,317.6 L199.4,324.0 L201.1,330.8 L198.5,337.7 L201.1,344.5 L200.2,349.7 L197.7,348.8 L190.8,345.4 L186.5,339.4 L185.7,330.8 L184.0,323.1 L177.1,324.0 L166.8,324.0 L166.8,318.5 L167.7,311.6 L169.4,304.8 L172.0,301.4Z" fill="none" stroke="#56606e" stroke-width="0.6" stroke-linejoin="round"/>
<path d="M169.3,301.8 L173.1,297.0 L177.9,297.0 L183.7,302.8 L193.4,310.0 L197.7,318.0 L194.2,322.3 L188.3,321.4 L184.8,323.1 L171.1,322.3 L167.2,323.1 L166.0,317.1 L166.8,308.6Z" fill="#37996a" stroke="none"/>
<path d="M169.3,301.8 L173.1,297.0 L177.9,297.0 L183.7,302.8 L193.4,310.0 L197.7,318.0 L194.2,322.3 L188.3,321.4 L184.8,323.1 L171.1,322.3 L167.2,323.1 L166.0,317.1 L166.8,308.6Z" fill="none" stroke="#ffffff" stroke-opacity="0.55" stroke-width="1.3" stroke-linejoin="round"/>
<path d="M169.3,301.8 L173.1,297.0 L177.9,297.0 L183.7,302.8 L193.4,310.0 L197.7,318.0 L194.2,322.3 L188.3,321.4 L184.8,323.1 L171.1,322.3 L167.2,323.1 L166.0,317.1 L166.8,308.6Z" fill="none" stroke="#56606e" stroke-width="0.6" stroke-linejoin="round"/>
<path d="M166.8,324.0 L177.1,324.0 L184.0,323.1 L185.7,330.8 L186.5,339.4 L190.8,345.4 L197.7,348.8 L200.2,349.7 L202.8,360.0 L206.2,365.0 L204.5,372.0 L206.2,380.0 L205.5,385.5 L205.5,390.7 L201.0,386.2 L193.5,387.0 L192.0,381.0 L191.2,373.5 L188.2,366.0 L187.5,360.0 L185.7,351.4 L178.8,346.2 L170.3,344.5 L165.1,341.1 L163.4,334.2 L166.8,327.4Z" fill="#d9400f" stroke="none"/>
<path d="M166.8,324.0 L177.1,324.0 L184.0,323.1 L185.7,330.8 L186.5,339.4 L190.8,345.4 L197.7,348.8 L200.2,349.7 L202.8,360.0 L206.2,365.0 L204.5,372.0 L206.2,380.0 L205.5,385.5 L205.5,390.7 L201.0,386.2 L193.5,387.0 L192.0,381.0 L191.2,373.5 L188.2,366.0 L187.5,360.0 L185.7,351.4 L178.8,346.2 L170.3,344.5 L165.1,341.1 L163.4,334.2 L166.8,327.4Z" fill="none" stroke="#ffffff" stroke-opacity="0.55" stroke-width="1.3" stroke-linejoin="round"/>
<path d="M166.8,324.0 L177.1,324.0 L184.0,323.1 L185.7,330.8 L186.5,339.4 L190.8,345.4 L197.7,348.8 L200.2,349.7 L202.8,360.0 L206.2,365.0 L204.5,372.0 L206.2,380.0 L205.5,385.5 L205.5,390.7 L201.0,386.2 L193.5,387.0 L192.0,381.0 L191.2,373.5 L188.2,366.0 L187.5,360.0 L185.7,351.4 L178.8,346.2 L170.3,344.5 L165.1,341.1 L163.4,334.2 L166.8,327.4Z" fill="none" stroke="#56606e" stroke-width="0.6" stroke-linejoin="round"/>
<path d="M161.7,349.7 L170.3,345.4 L178.8,347.1 L185.7,351.4 L189.1,361.6 L191.2,373.5 L192.0,381.0 L193.5,388.5 L186.7,393.7 L183.0,396.0 L179.2,395.2 L172.5,396.0 L169.5,390.0 L168.0,384.0 L169.5,378.0 L165.0,372.0 L162.0,367.5Z" fill="#37996a" stroke="none"/>
<path d="M161.7,349.7 L170.3,345.4 L178.8,347.1 L185.7,351.4 L189.1,361.6 L191.2,373.5 L192.0,381.0 L193.5,388.5 L186.7,393.7 L183.0,396.0 L179.2,395.2 L172.5,396.0 L169.5,390.0 L168.0,384.0 L169.5,378.0 L165.0,372.0 L162.0,367.5Z" fill="none" stroke="#ffffff" stroke-opacity="0.55" stroke-width="1.3" stroke-linejoin="round"/>
<path d="M161.7,349.7 L170.3,345.4 L178.8,347.1 L185.7,351.4 L189.1,361.6 L191.2,373.5 L192.0,381.0 L193.5,388.5 L186.7,393.7 L183.0,396.0 L179.2,395.2 L172.5,396.0 L169.5,390.0 L168.0,384.0 L169.5,378.0 L165.0,372.0 L162.0,367.5Z" fill="none" stroke="#56606e" stroke-width="0.6" stroke-linejoin="round"/>
<path d="M193.5,387.0 L201.0,386.2 L205.5,390.7 L206.2,394.5 L201.0,400.5 L196.5,400.5 L190.5,399.0 L184.5,402.0 L181.5,399.0 L179.0,395.0 L183.0,396.0 L186.0,393.7Z" fill="#f89a3c" stroke="none"/>
<path d="M193.5,387.0 L201.0,386.2 L205.5,390.7 L206.2,394.5 L201.0,400.5 L196.5,400.5 L190.5,399.0 L184.5,402.0 L181.5,399.0 L179.0,395.0 L183.0,396.0 L186.0,393.7Z" fill="none" stroke="#ffffff" stroke-opacity="0.55" stroke-width="1.3" stroke-linejoin="round"/>
<path d="M193.5,387.0 L201.0,386.2 L205.5,390.7 L206.2,394.5 L201.0,400.5 L196.5,400.5 L190.5,399.0 L184.5,402.0 L181.5,399.0 L179.0,395.0 L183.0,396.0 L186.0,393.7Z" fill="none" stroke="#56606e" stroke-width="0.6" stroke-linejoin="round"/>
<path d="M181.5,399.0 L184.5,402.0 L190.5,399.0 L196.5,400.5 L201.0,400.5 L206.2,394.5 L207.0,391.5 L211.5,396.0 L216.0,405.0 L220.5,414.0 L226.5,417.0 L232.5,416.2 L231.0,419.2 L225.0,420.0 L220.5,422.2 L213.0,423.7 L204.0,422.2 L196.5,420.0 L190.5,420.5 L184.5,418.0 L180.5,413.0 L179.2,409.5 L178.5,405.0Z" fill="#d9400f" stroke="none"/>
<path d="M181.5,399.0 L184.5,402.0 L190.5,399.0 L196.5,400.5 L201.0,400.5 L206.2,394.5 L207.0,391.5 L211.5,396.0 L216.0,405.0 L220.5,414.0 L226.5,417.0 L232.5,416.2 L231.0,419.2 L225.0,420.0 L220.5,422.2 L213.0,423.7 L204.0,422.2 L196.5,420.0 L190.5,420.5 L184.5,418.0 L180.5,413.0 L179.2,409.5 L178.5,405.0Z" fill="none" stroke="#ffffff" stroke-opacity="0.55" stroke-width="1.3" stroke-linejoin="round"/>
<path d="M181.5,399.0 L184.5,402.0 L190.5,399.0 L196.5,400.5 L201.0,400.5 L206.2,394.5 L207.0,391.5 L211.5,396.0 L216.0,405.0 L220.5,414.0 L226.5,417.0 L232.5,416.2 L231.0,419.2 L225.0,420.0 L220.5,422.2 L213.0,423.7 L204.0,422.2 L196.5,420.0 L190.5,420.5 L184.5,418.0 L180.5,413.0 L179.2,409.5 L178.5,405.0Z" fill="none" stroke="#56606e" stroke-width="0.6" stroke-linejoin="round"/>
<path d="M126.8,380.5 L131.1,372.8 L137.9,373.7 L146.5,377.1 L156.0,379.5 L165.0,382.5 L168.0,384.0 L169.5,390.0 L172.5,396.0 L179.2,395.2 L181.5,399.0 L178.5,405.0 L169.5,406.5 L165.0,410.2 L159.0,408.7 L153.4,401.9 L146.5,395.1 L143.1,400.2 L137.9,400.2 L134.5,395.1 L128.5,393.4 L125.1,386.5Z" fill="#12cc5f" stroke="none"/>
<path d="M126.8,380.5 L131.1,372.8 L137.9,373.7 L146.5,377.1 L156.0,379.5 L165.0,382.5 L168.0,384.0 L169.5,390.0 L172.5,396.0 L179.2,395.2 L181.5,399.0 L178.5,405.0 L169.5,406.5 L165.0,410.2 L159.0,408.7 L153.4,401.9 L146.5,395.1 L143.1,400.2 L137.9,400.2 L134.5,395.1 L128.5,393.4 L125.1,386.5Z" fill="none" stroke="#ffffff" stroke-opacity="0.55" stroke-width="1.3" stroke-linejoin="round"/>
<path d="M126.8,380.5 L131.1,372.8 L137.9,373.7 L146.5,377.1 L156.0,379.5 L165.0,382.5 L168.0,384.0 L169.5,390.0 L172.5,396.0 L179.2,395.2 L181.5,399.0 L178.5,405.0 L169.5,406.5 L165.0,410.2 L159.0,408.7 L153.4,401.9 L146.5,395.1 L143.1,400.2 L137.9,400.2 L134.5,395.1 L128.5,393.4 L125.1,386.5Z" fill="none" stroke="#56606e" stroke-width="0.6" stroke-linejoin="round"/>
<path d="M148.6,130.0 L149.8,136.4 L152.4,140.3 L161.4,137.7 L165.3,135.5" fill="none" stroke="#ffffff" stroke-opacity="0.55" stroke-width="1.3"/>
<path d="M150.8,159.7 L159.8,154.6 L171.4,154.6 L175.3,159.7 L174.0,166.1 L163.7,168.7 L153.4,170.0" fill="none" stroke="#ffffff" stroke-opacity="0.55" stroke-width="1.3"/>
<path d="M175.3,159.7 L180.4,152.0 L184.3,144.3" fill="none" stroke="#ffffff" stroke-opacity="0.55" stroke-width="1.3"/>
<path d="M78.4,191.4 L80.0,200.0 L77.0,207.0 L80.0,214.8" fill="none" stroke="#ffffff" stroke-opacity="0.55" stroke-width="1.3"/>
<path d="M172.0,194.8 L170.2,204.2 L167.7,211.1 L166.8,215.4" fill="none" stroke="#ffffff" stroke-opacity="0.55" stroke-width="1.3"/>
<path d="M82.3,262.3 L85.7,267.4 L87.4,272.5 L84.0,276.0 L82.3,282.8 L77.1,286.2 L80.5,291.4" fill="none" stroke="#ffffff" stroke-opacity="0.55" stroke-width="1.3"/>
<path d="M163.0,272.5 L166.8,275.7 L175.4,280.8 L178.8,287.7 L172.0,290.2" fill="none" stroke="#ffffff" stroke-opacity="0.55" stroke-width="1.3"/>
<path d="M116.5,304.0 L116.5,314.2 L115.7,322.8 L114.8,329.7" fill="none" stroke="#ffffff" stroke-opacity="0.55" stroke-width="1.3"/>
<path d="M27.4,252.5 L36.8,253.4 L45.4,256.8 L54.8,256.8" fill="none" stroke="#ffffff" stroke-opacity="0.55" stroke-width="1.3"/>
<path d="M83.5,217.5 L88.0,226.0 L96.0,234.2" fill="none" stroke="#ffffff" stroke-opacity="0.55" stroke-width="1.3"/>
<path d="M130.1,251.9 L132.7,258.3 L128.8,267.3 L123.7,275.0 L116.0,281.4 L110.8,289.1" fill="none" stroke="#ffffff" stroke-opacity="0.55" stroke-width="1.3"/>
<path d="M148.1,258.3 L146.8,268.5 L151.9,275.0 L153.2,280.1" fill="none" stroke="#ffffff" stroke-opacity="0.55" stroke-width="1.3"/>
<path d="M116.4,343.7 L112.8,349.2 L107.3,352.8 L103.6,358.3" fill="none" stroke="#ffffff" stroke-opacity="0.55" stroke-width="1.3"/>
<path d="M129.1,340.1 L131.9,347.4 L136.4,351.0 L143.7,351.9 L144.6,360.1 L149.2,365.6 L154.6,363.8 L158.3,354.6" fill="none" stroke="#ffffff" stroke-opacity="0.55" stroke-width="1.3"/>
<path d="M152.8,343.7 L158.3,354.6 L163.8,349.2" fill="none" stroke="#ffffff" stroke-opacity="0.55" stroke-width="1.3"/>
<path d="M144.6,360.1 L145.5,371.0 L147.4,376.5" fill="none" stroke="#ffffff" stroke-opacity="0.55" stroke-width="1.3"/>
<path d="M154.6,363.8 L161.9,365.6 L165.6,371.0" fill="none" stroke="#ffffff" stroke-opacity="0.55" stroke-width="1.3"/>
<path d="M143.7,310.9 L145.5,318.2 L143.7,327.3" fill="none" stroke="#ffffff" stroke-opacity="0.55" stroke-width="1.3"/>
<path d="M58.0,328.0 L62.0,331.0 L68.5,329.7 L75.4,333.1" fill="none" stroke="#ffffff" stroke-opacity="0.55" stroke-width="1.3"/>
<path d="M75.4,333.1 L77.0,340.0 L77.1,348.5 L76.0,359.0" fill="none" stroke="#ffffff" stroke-opacity="0.55" stroke-width="1.3"/>
<path d="M98.5,231.0 L106.8,233.3 L115.0,232.7 L118.5,228.5 L122.0,222.6 L125.6,220.3 L130.0,220.5" fill="none" stroke="#ffffff" stroke-opacity="0.55" stroke-width="1.3"/>
<path d="M115.0,232.7 L117.4,238.0 L116.0,244.0 L114.0,250.0" fill="none" stroke="#ffffff" stroke-opacity="0.55" stroke-width="1.3"/>
<path d="M117.4,238.0 L124.0,236.5 L130.5,233.5 L133.9,230.3" fill="none" stroke="#ffffff" stroke-opacity="0.55" stroke-width="1.3"/>
<path d="M124.0,236.5 L131.5,240.5 L131.0,248.0 L133.0,253.0" fill="none" stroke="#ffffff" stroke-opacity="0.55" stroke-width="1.3"/>
<path d="M139.8,232.1 L137.0,240.0 L143.0,247.0 L150.0,250.0" fill="none" stroke="#ffffff" stroke-opacity="0.55" stroke-width="1.3"/>
</g>
<path d="M100.7,151.1 L103.3,157.1 L105.8,163.1 L106.7,170.8 L109.2,174.2 L113.5,181.1 L119.0,178.8 L125.4,172.4 L131.9,167.3 L135.1,173.1 L139.6,175.0 L148.6,176.3 L158.2,177.6 L161.4,179.7 L157.1,181.4 L155.4,184.8 L156.3,189.9 L164.0,194.2 L170.8,193.4 L179.4,192.5 L187.9,191.6 L196.5,192.5 L201.9,188.8" fill="none" stroke="#1b2658" stroke-width="1.8" stroke-linejoin="round"/>
<path d="M32.8,292.5 L38.6,298.0 L45.6,296.7 L54.8,297.2 L65.1,296.0 L73.6,294.6 L82.3,292.2 L94.2,289.7 L99.4,293.1 L105.7,289.1 L112.1,292.9 L113.4,301.9 L117.3,304.5 L127.5,301.9 L130.1,298.1 L136.5,296.8 L142.9,300.6 L146.8,299.3 L150.6,292.9 L151.9,285.2 L153.2,280.1 L158.3,276.2 L163.5,274.3 L159.6,268.5 L159.0,260.8 L159.6,257.0 L167.7,257.7 L181.4,259.4 L191.6,256.8 L200.2,256.8" fill="none" stroke="#1b2658" stroke-width="1.8" stroke-linejoin="round"/>
<path d="M148.6,130.0 L149.8,136.4 L152.4,140.3 L161.4,137.7 L165.3,135.5" fill="none" stroke="#56606e" stroke-width="0.6"/>
<path d="M150.8,159.7 L159.8,154.6 L171.4,154.6 L175.3,159.7 L174.0,166.1 L163.7,168.7 L153.4,170.0" fill="none" stroke="#56606e" stroke-width="0.6"/>
<path d="M175.3,159.7 L180.4,152.0 L184.3,144.3" fill="none" stroke="#56606e" stroke-width="0.6"/>
<path d="M78.4,191.4 L80.0,200.0 L77.0,207.0 L80.0,214.8" fill="none" stroke="#56606e" stroke-width="0.6"/>
<path d="M172.0,194.8 L170.2,204.2 L167.7,211.1 L166.8,215.4" fill="none" stroke="#56606e" stroke-width="0.6"/>
<path d="M82.3,262.3 L85.7,267.4 L87.4,272.5 L84.0,276.0 L82.3,282.8 L77.1,286.2 L80.5,291.4" fill="none" stroke="#56606e" stroke-width="0.6"/>
<path d="M163.0,272.5 L166.8,275.7 L175.4,280.8 L178.8,287.7 L172.0,290.2" fill="none" stroke="#56606e" stroke-width="0.6"/>
<path d="M116.5,304.0 L116.5,314.2 L115.7,322.8 L114.8,329.7" fill="none" stroke="#56606e" stroke-width="0.6"/>
<path d="M27.4,252.5 L36.8,253.4 L45.4,256.8 L54.8,256.8" fill="none" stroke="#56606e" stroke-width="0.6"/>
<path d="M83.5,217.5 L88.0,226.0 L96.0,234.2" fill="none" stroke="#56606e" stroke-width="0.6"/>
<path d="M130.1,251.9 L132.7,258.3 L128.8,267.3 L123.7,275.0 L116.0,281.4 L110.8,289.1" fill="none" stroke="#56606e" stroke-width="0.6"/>
<path d="M148.1,258.3 L146.8,268.5 L151.9,275.0 L153.2,280.1" fill="none" stroke="#56606e" stroke-width="0.6"/>
<path d="M116.4,343.7 L112.8,349.2 L107.3,352.8 L103.6,358.3" fill="none" stroke="#56606e" stroke-width="0.6"/>
<path d="M129.1,340.1 L131.9,347.4 L136.4,351.0 L143.7,351.9 L144.6,360.1 L149.2,365.6 L154.6,363.8 L158.3,354.6" fill="none" stroke="#56606e" stroke-width="0.6"/>
<path d="M152.8,343.7 L158.3,354.6 L163.8,349.2" fill="none" stroke="#56606e" stroke-width="0.6"/>
<path d="M144.6,360.1 L145.5,371.0 L147.4,376.5" fill="none" stroke="#56606e" stroke-width="0.6"/>
<path d="M154.6,363.8 L161.9,365.6 L165.6,371.0" fill="none" stroke="#56606e" stroke-width="0.6"/>
<path d="M143.7,310.9 L145.5,318.2 L143.7,327.3" fill="none" stroke="#56606e" stroke-width="0.6"/>
<path d="M58.0,328.0 L62.0,331.0 L68.5,329.7 L75.4,333.1" fill="none" stroke="#56606e" stroke-width="0.6"/>
<path d="M75.4,333.1 L77.0,340.0 L77.1,348.5 L76.0,359.0" fill="none" stroke="#56606e" stroke-width="0.6"/>
<path d="M98.5,231.0 L106.8,233.3 L115.0,232.7 L118.5,228.5 L122.0,222.6 L125.6,220.3 L130.0,220.5" fill="none" stroke="#56606e" stroke-width="0.6"/>
<path d="M115.0,232.7 L117.4,238.0 L116.0,244.0 L114.0,250.0" fill="none" stroke="#56606e" stroke-width="0.6"/>
<path d="M117.4,238.0 L124.0,236.5 L130.5,233.5 L133.9,230.3" fill="none" stroke="#56606e" stroke-width="0.6"/>
<path d="M124.0,236.5 L131.5,240.5 L131.0,248.0 L133.0,253.0" fill="none" stroke="#56606e" stroke-width="0.6"/>
<path d="M139.8,232.1 L137.0,240.0 L143.0,247.0 L150.0,250.0" fill="none" stroke="#56606e" stroke-width="0.6"/>
<path d="M102.3,110.0 L105.7,107.4 L111.7,108.3 L116.8,108.3 L120.2,105.7 L126.2,106.5 L131.4,104.0 L137.4,103.1 L142.5,103.1 L148.5,102.3 L151.9,101.4 L155.1,95.4 L160.3,89.4 L166.3,87.7 L172.3,92.0 L176.5,92.0 L181.7,89.4 L186.8,91.1 L191.1,90.3 L195.4,86.8 L198.8,87.7 L198.8,93.7 L196.2,98.8 L199.7,104.0 L201.4,110.8 L205.7,116.0 L204.8,120.2 L199.7,122.8 L198.8,125.4 L200.5,129.7 L198.2,135.1 L194.8,139.4 L191.4,142.0 L189.7,145.4 L190.5,152.3 L191.4,158.3 L194.8,162.5 L194.8,169.4 L198.2,176.2 L200.8,183.1 L201.9,188.8 L200.2,194.0 L202.8,198.3 L206.2,204.2 L204.5,208.5 L199.3,212.0 L198.5,215.4 L200.2,221.4 L197.6,224.8 L195.1,229.9 L195.9,238.5 L196.8,245.3 L197.6,250.0 L200.2,256.8 L201.9,260.3 L203.6,267.1 L205.3,275.7 L204.5,280.8 L200.2,284.2 L198.5,289.4 L198.5,296.2 L200.2,304.8 L199.3,313.4 L201.9,317.6 L199.4,324.0 L201.1,330.8 L198.5,337.7 L201.1,344.5 L200.2,351.4 L202.8,359.9 L206.2,365.1 L204.5,371.9 L206.2,380.0 L205.5,385.5 L207.0,391.5 L211.5,396.0 L216.0,405.0 L220.5,414.0 L226.5,417.0 L232.5,416.2 L231.0,419.2 L225.0,420.0 L220.5,422.2 L213.0,423.7 L204.0,422.2 L196.5,420.0 L190.5,420.5 L184.5,418.0 L180.5,413.0 L179.2,409.5 L178.5,405.0 L169.5,406.5 L165.0,410.2 L159.0,408.7 L153.4,401.9 L146.5,395.1 L143.1,400.2 L137.9,400.2 L134.5,395.1 L128.5,393.4 L125.1,386.5 L126.8,381.4 L124.2,377.9 L119.1,372.8 L114.0,368.5 L108.8,365.1 L105.4,360.8 L100.3,358.6 L91.3,361.1 L87.4,362.4 L82.3,359.0 L76.0,359.0 L75.5,352.0 L74.0,345.0 L72.5,350.0 L70.5,356.0 L67.5,353.5 L65.0,347.0 L63.4,343.4 L61.7,338.0 L56.5,333.1 L51.4,331.4 L46.2,333.1 L42.0,331.4 L42.0,328.8 L36.8,321.0 L36.5,315.0 L42.0,310.8 L41.0,308.5 L34.7,306.9 L29.6,301.2 L29.0,296.7 L32.8,292.2 L36.7,287.7 L36.0,285.1 L29.6,283.2 L27.7,280.0 L25.7,276.5 L26.5,271.4 L27.4,264.5 L25.7,258.5 L18.8,254.2 L17.1,245.7 L13.7,237.1 L12.0,228.6 L12.0,220.8 L16.3,219.9 L20.5,219.1 L22.3,216.5 L27.4,217.4 L30.8,214.8 L36.0,211.4 L41.1,209.7 L45.4,206.2 L47.1,199.4 L48.8,194.2 L53.1,190.0 L59.9,189.1 L57.4,185.7 L58.2,178.8 L56.5,173.7 L59.1,171.1 L65.1,172.0 L71.9,170.3 L80.0,169.4 L83.6,170.0 L88.7,166.5 L92.1,162.3 L94.7,157.1 L97.3,152.0 L98.0,147.0 L97.1,142.5 L92.0,140.8 L90.3,136.5 L92.0,130.5 L97.1,126.2 L103.1,121.1 L101.4,116.8Z" fill="none" stroke="#1b2658" stroke-width="2" stroke-linejoin="round"/>
<ellipse cx="190.8" cy="410.5" rx="1.9" ry="4.2" fill="#fff" stroke="#1b2658" stroke-width="1.3"/>
<rect x="133.0" y="115.1" width="10" height="1.1" fill="#1a1a1a" opacity="0.45"/>
<circle cx="138" cy="119.7" r="2.5" fill="#eeeec4" opacity="0.8"/><circle cx="138" cy="119.7" r="1.1" fill="#b5804a"/>
<rect x="105.0" y="134.3" width="10" height="1.1" fill="#1a1a1a" opacity="0.45"/>
<circle cx="110" cy="138.9" r="2.5" fill="#eeeec4" opacity="0.8"/><circle cx="110" cy="138.9" r="1.1" fill="#b5804a"/>
<rect x="180.3" y="111.9" width="10" height="1.1" fill="#1a1a1a" opacity="0.45"/>
<circle cx="185.3" cy="116.5" r="2.5" fill="#eeeec4" opacity="0.8"/><circle cx="185.3" cy="116.5" r="1.1" fill="#b5804a"/>
<rect x="181.8" y="129.4" width="10" height="1.1" fill="#1a1a1a" opacity="0.45"/>
<circle cx="186.8" cy="134" r="2.5" fill="#eeeec4" opacity="0.8"/><circle cx="186.8" cy="134" r="1.1" fill="#b5804a"/>
<rect x="99.8" y="150.2" width="10" height="1.1" fill="#1a1a1a" opacity="0.45"/>
<circle cx="104.8" cy="154.8" r="2.5" fill="#eeeec4" opacity="0.8"/><circle cx="104.8" cy="154.8" r="1.1" fill="#b5804a"/>
<rect x="134.5" y="152.5" width="10" height="1.1" fill="#1a1a1a" opacity="0.45"/>
<circle cx="139.5" cy="157.1" r="2.5" fill="#eeeec4" opacity="0.8"/><circle cx="139.5" cy="157.1" r="1.1" fill="#b5804a"/>
<rect x="163.9" y="155.4" width="10" height="1.1" fill="#1a1a1a" opacity="0.45"/>
<circle cx="168.9" cy="160" r="2.5" fill="#eeeec4" opacity="0.8"/><circle cx="168.9" cy="160" r="1.1" fill="#b5804a"/>
<rect x="178.4" y="160.8" width="10" height="1.1" fill="#1a1a1a" opacity="0.45"/>
<circle cx="183.4" cy="165.4" r="2.5" fill="#eeeec4" opacity="0.8"/><circle cx="183.4" cy="165.4" r="1.1" fill="#b5804a"/>
<rect x="90.5" y="172.2" width="10" height="1.1" fill="#1a1a1a" opacity="0.45"/>
<circle cx="95.5" cy="176.8" r="2.5" fill="#eeeec4" opacity="0.8"/><circle cx="95.5" cy="176.8" r="1.1" fill="#b5804a"/>
<rect x="64.4" y="200.6" width="10" height="1.1" fill="#1a1a1a" opacity="0.45"/>
<circle cx="69.4" cy="205.2" r="2.5" fill="#eeeec4" opacity="0.8"/><circle cx="69.4" cy="205.2" r="1.1" fill="#b5804a"/>
<rect x="82.6" y="206.7" width="10" height="1.1" fill="#1a1a1a" opacity="0.45"/>
<circle cx="87.6" cy="211.3" r="2.5" fill="#eeeec4" opacity="0.8"/><circle cx="87.6" cy="211.3" r="1.1" fill="#b5804a"/>
<rect x="139.7" y="198.8" width="10" height="1.1" fill="#1a1a1a" opacity="0.45"/>
<circle cx="144.7" cy="203.4" r="2.5" fill="#eeeec4" opacity="0.8"/><circle cx="144.7" cy="203.4" r="1.1" fill="#b5804a"/>
<rect x="184.1" y="210.8" width="10" height="1.1" fill="#1a1a1a" opacity="0.45"/>
<circle cx="189.1" cy="215.4" r="2.5" fill="#eeeec4" opacity="0.8"/><circle cx="189.1" cy="215.4" r="1.1" fill="#b5804a"/>
<rect x="14.0" y="223.8" width="10" height="1.1" fill="#1a1a1a" opacity="0.45"/>
<circle cx="19" cy="228.4" r="2.5" fill="#eeeec4" opacity="0.8"/><circle cx="19" cy="228.4" r="1.1" fill="#b5804a"/>
<rect x="85.5" y="221.1" width="10" height="1.1" fill="#1a1a1a" opacity="0.45"/>
<circle cx="90.5" cy="225.7" r="2.5" fill="#eeeec4" opacity="0.8"/><circle cx="90.5" cy="225.7" r="1.1" fill="#b5804a"/>
<rect x="108.1" y="224.1" width="10" height="1.1" fill="#1a1a1a" opacity="0.45"/>
<circle cx="113.1" cy="228.7" r="2.5" fill="#eeeec4" opacity="0.8"/><circle cx="113.1" cy="228.7" r="1.1" fill="#b5804a"/>
<rect x="119.2" y="220.2" width="10" height="1.1" fill="#1a1a1a" opacity="0.45"/>
<circle cx="124.2" cy="224.8" r="2.5" fill="#eeeec4" opacity="0.8"/><circle cx="124.2" cy="224.8" r="1.1" fill="#b5804a"/>
<rect x="113.6" y="213.9" width="10" height="1.1" fill="#1a1a1a" opacity="0.45"/>
<circle cx="118.6" cy="218.5" r="2.5" fill="#eeeec4" opacity="0.8"/><circle cx="118.6" cy="218.5" r="1.1" fill="#b5804a"/>
<rect x="127.8" y="217.7" width="10" height="1.1" fill="#1a1a1a" opacity="0.45"/>
<circle cx="132.8" cy="222.3" r="2.5" fill="#eeeec4" opacity="0.8"/><circle cx="132.8" cy="222.3" r="1.1" fill="#b5804a"/>
<rect x="123.5" y="227.1" width="10" height="1.1" fill="#1a1a1a" opacity="0.45"/>
<circle cx="128.5" cy="231.7" r="2.5" fill="#eeeec4" opacity="0.8"/><circle cx="128.5" cy="231.7" r="1.1" fill="#b5804a"/>
<rect x="118.4" y="231.4" width="10" height="1.1" fill="#1a1a1a" opacity="0.45"/>
<circle cx="123.4" cy="236" r="2.5" fill="#eeeec4" opacity="0.8"/><circle cx="123.4" cy="236" r="1.1" fill="#b5804a"/>
<rect x="137.1" y="226.2" width="10" height="1.1" fill="#1a1a1a" opacity="0.45"/>
<circle cx="142.1" cy="230.8" r="2.5" fill="#eeeec4" opacity="0.8"/><circle cx="142.1" cy="230.8" r="1.1" fill="#b5804a"/>
<rect x="183.2" y="225.4" width="10" height="1.1" fill="#1a1a1a" opacity="0.45"/>
<circle cx="188.2" cy="230" r="2.5" fill="#eeeec4" opacity="0.8"/><circle cx="188.2" cy="230" r="1.1" fill="#b5804a"/>
<rect x="61.8" y="243.9" width="10" height="1.1" fill="#1a1a1a" opacity="0.45"/>
<circle cx="66.8" cy="248.5" r="2.5" fill="#eeeec4" opacity="0.8"/><circle cx="66.8" cy="248.5" r="1.1" fill="#b5804a"/>
<rect x="35.0" y="242.2" width="10" height="1.1" fill="#1a1a1a" opacity="0.45"/>
<circle cx="40" cy="246.8" r="2.5" fill="#eeeec4" opacity="0.8"/><circle cx="40" cy="246.8" r="1.1" fill="#b5804a"/>
<rect x="40.8" y="260.0" width="10" height="1.1" fill="#1a1a1a" opacity="0.45"/>
<circle cx="45.8" cy="264.6" r="2.5" fill="#eeeec4" opacity="0.8"/><circle cx="45.8" cy="264.6" r="1.1" fill="#b5804a"/>
<rect x="86.7" y="241.4" width="10" height="1.1" fill="#1a1a1a" opacity="0.45"/>
<circle cx="91.7" cy="246" r="2.5" fill="#eeeec4" opacity="0.8"/><circle cx="91.7" cy="246" r="1.1" fill="#b5804a"/>
<rect x="119.0" y="251.8" width="10" height="1.1" fill="#1a1a1a" opacity="0.45"/>
<circle cx="124" cy="256.4" r="2.5" fill="#eeeec4" opacity="0.8"/><circle cx="124" cy="256.4" r="1.1" fill="#b5804a"/>
<rect x="164.0" y="243.7" width="10" height="1.1" fill="#1a1a1a" opacity="0.45"/>
<circle cx="169" cy="248.3" r="2.5" fill="#eeeec4" opacity="0.8"/><circle cx="169" cy="248.3" r="1.1" fill="#b5804a"/>
<rect x="129.4" y="269.0" width="10" height="1.1" fill="#1a1a1a" opacity="0.45"/>
<circle cx="134.4" cy="273.6" r="2.5" fill="#eeeec4" opacity="0.8"/><circle cx="134.4" cy="273.6" r="1.1" fill="#b5804a"/>
<rect x="144.8" y="272.6" width="10" height="1.1" fill="#1a1a1a" opacity="0.45"/>
<circle cx="149.8" cy="277.2" r="2.5" fill="#eeeec4" opacity="0.8"/><circle cx="149.8" cy="277.2" r="1.1" fill="#b5804a"/>
<rect x="168.7" y="262.5" width="10" height="1.1" fill="#1a1a1a" opacity="0.45"/>
<circle cx="173.7" cy="267.1" r="2.5" fill="#eeeec4" opacity="0.8"/><circle cx="173.7" cy="267.1" r="1.1" fill="#b5804a"/>
<rect x="90.6" y="271.3" width="10" height="1.1" fill="#1a1a1a" opacity="0.45"/>
<circle cx="95.6" cy="275.9" r="2.5" fill="#eeeec4" opacity="0.8"/><circle cx="95.6" cy="275.9" r="1.1" fill="#b5804a"/>
<rect x="59.0" y="275.2" width="10" height="1.1" fill="#1a1a1a" opacity="0.45"/>
<circle cx="64" cy="279.8" r="2.5" fill="#eeeec4" opacity="0.8"/><circle cx="64" cy="279.8" r="1.1" fill="#b5804a"/>
<rect x="158.4" y="285.6" width="10" height="1.1" fill="#1a1a1a" opacity="0.45"/>
<circle cx="163.4" cy="290.2" r="2.5" fill="#eeeec4" opacity="0.8"/><circle cx="163.4" cy="290.2" r="1.1" fill="#b5804a"/>
<rect x="64.4" y="309.7" width="10" height="1.1" fill="#1a1a1a" opacity="0.45"/>
<circle cx="69.4" cy="314.3" r="2.5" fill="#eeeec4" opacity="0.8"/><circle cx="69.4" cy="314.3" r="1.1" fill="#b5804a"/>
<rect x="85.8" y="310.5" width="10" height="1.1" fill="#1a1a1a" opacity="0.45"/>
<circle cx="90.8" cy="315.1" r="2.5" fill="#eeeec4" opacity="0.8"/><circle cx="90.8" cy="315.1" r="1.1" fill="#b5804a"/>
<rect x="100.2" y="318.3" width="10" height="1.1" fill="#1a1a1a" opacity="0.45"/>
<circle cx="105.2" cy="322.9" r="2.5" fill="#eeeec4" opacity="0.8"/><circle cx="105.2" cy="322.9" r="1.1" fill="#b5804a"/>
<rect x="127.2" y="318.4" width="10" height="1.1" fill="#1a1a1a" opacity="0.45"/>
<circle cx="132.2" cy="323" r="2.5" fill="#eeeec4" opacity="0.8"/><circle cx="132.2" cy="323" r="1.1" fill="#b5804a"/>
<rect x="157.5" y="306.4" width="10" height="1.1" fill="#1a1a1a" opacity="0.45"/>
<circle cx="162.5" cy="311" r="2.5" fill="#eeeec4" opacity="0.8"/><circle cx="162.5" cy="311" r="1.1" fill="#b5804a"/>
<rect x="177.3" y="309.0" width="10" height="1.1" fill="#1a1a1a" opacity="0.45"/>
<circle cx="182.3" cy="313.6" r="2.5" fill="#eeeec4" opacity="0.8"/><circle cx="182.3" cy="313.6" r="1.1" fill="#b5804a"/>
<rect x="191.8" y="313.7" width="10" height="1.1" fill="#1a1a1a" opacity="0.45"/>
<circle cx="196.8" cy="318.3" r="2.5" fill="#eeeec4" opacity="0.8"/><circle cx="196.8" cy="318.3" r="1.1" fill="#b5804a"/>
<rect x="142.0" y="323.7" width="10" height="1.1" fill="#1a1a1a" opacity="0.45"/>
<circle cx="147" cy="328.3" r="2.5" fill="#eeeec4" opacity="0.8"/><circle cx="147" cy="328.3" r="1.1" fill="#b5804a"/>
<rect x="163.7" y="334.8" width="10" height="1.1" fill="#1a1a1a" opacity="0.45"/>
<circle cx="168.7" cy="339.4" r="2.5" fill="#eeeec4" opacity="0.8"/><circle cx="168.7" cy="339.4" r="1.1" fill="#b5804a"/>
<rect x="135.3" y="339.8" width="10" height="1.1" fill="#1a1a1a" opacity="0.45"/>
<circle cx="140.3" cy="344.4" r="2.5" fill="#eeeec4" opacity="0.8"/><circle cx="140.3" cy="344.4" r="1.1" fill="#b5804a"/>
<rect x="134.5" y="355.4" width="10" height="1.1" fill="#1a1a1a" opacity="0.45"/>
<circle cx="139.5" cy="360" r="2.5" fill="#eeeec4" opacity="0.8"/><circle cx="139.5" cy="360" r="1.1" fill="#b5804a"/>
<rect x="65.5" y="339.7" width="10" height="1.1" fill="#1a1a1a" opacity="0.45"/>
<circle cx="70.5" cy="344.3" r="2.5" fill="#eeeec4" opacity="0.8"/><circle cx="70.5" cy="344.3" r="1.1" fill="#b5804a"/>
<rect x="85.0" y="344.9" width="10" height="1.1" fill="#1a1a1a" opacity="0.45"/>
<circle cx="90" cy="349.5" r="2.5" fill="#eeeec4" opacity="0.8"/><circle cx="90" cy="349.5" r="1.1" fill="#b5804a"/>
<rect x="173.2" y="364.6" width="10" height="1.1" fill="#1a1a1a" opacity="0.45"/>
<circle cx="178.2" cy="369.2" r="2.5" fill="#eeeec4" opacity="0.8"/><circle cx="178.2" cy="369.2" r="1.1" fill="#b5804a"/>
<rect x="194.1" y="355.3" width="10" height="1.1" fill="#1a1a1a" opacity="0.45"/>
<circle cx="199.1" cy="359.9" r="2.5" fill="#eeeec4" opacity="0.8"/><circle cx="199.1" cy="359.9" r="1.1" fill="#b5804a"/>
<rect x="152.9" y="370.1" width="10" height="1.1" fill="#1a1a1a" opacity="0.45"/>
<circle cx="157.9" cy="374.7" r="2.5" fill="#eeeec4" opacity="0.8"/><circle cx="157.9" cy="374.7" r="1.1" fill="#b5804a"/>
<rect x="134.7" y="392.3" width="10" height="1.1" fill="#1a1a1a" opacity="0.45"/>
<circle cx="139.7" cy="396.9" r="2.5" fill="#eeeec4" opacity="0.8"/><circle cx="139.7" cy="396.9" r="1.1" fill="#b5804a"/>
<rect x="192.5" y="394.7" width="10" height="1.1" fill="#1a1a1a" opacity="0.45"/>
<circle cx="197.5" cy="399.3" r="2.5" fill="#eeeec4" opacity="0.8"/><circle cx="197.5" cy="399.3" r="1.1" fill="#b5804a"/>
<rect x="190.7" y="403.0" width="10" height="1.1" fill="#1a1a1a" opacity="0.45"/>
<circle cx="195.7" cy="407.6" r="2.5" fill="#eeeec4" opacity="0.8"/><circle cx="195.7" cy="407.6" r="1.1" fill="#b5804a"/>
</svg>
<div class="hd" style="left:247.4px;top:81.7px;width:171.6px;height:51.89999999999999px"></div>
<div class="ht" style="left:247.4px;top:81.7px;width:88.70000000000002px;height:51.89999999999999px"><span>Територіальні<br>громади</span></div>
<div class="ht" style="left:336.1px;top:81.7px;width:58.69999999999999px;height:23.799999999999997px"><span>Загальне місце<br>громади</span></div>
<div class="ht" style="left:336.1px;top:105.5px;width:29.69999999999999px;height:28.099999999999994px"><span>6 міс.<br>2025</span></div>
<div class="ht" style="left:365.8px;top:105.5px;width:29.0px;height:28.099999999999994px"><span>5 міс.<br>2025</span></div>
<div class="dyn" style="left:394.8px;top:81.7px;width:24.19999999999999px;height:51.89999999999999px"><span>Динаміка</span></div>
<div class="rw" style="left:247.4px;top:133.60px;width:118.4px;height:9.80px;background:#37996a"></div>
<div class="nm" style="left:252.70000000000002px;top:134.70px;height:9.80px;line-height:9.80px">Шумська</div>
<div class="n6" style="left:336.1px;top:134.70px;width:29.69999999999999px;height:9.80px;line-height:9.80px"><span>1</span></div>
<div class="n5" style="left:365.8px;top:133.60px;padding-top:1.1px;width:29.0px;height:9.80px;line-height:9.80px"><span>9</span></div>
<div class="nd dp" style="left:394.8px;top:133.60px;padding-top:1.1px;width:24.19999999999999px;height:9.80px;line-height:9.80px">+8</div>
<div class="rw" style="left:247.4px;top:143.40px;width:118.4px;height:9.80px;background:#37996a"></div>
<div class="nm" style="left:252.70000000000002px;top:144.50px;height:9.80px;line-height:9.80px">Тернопільська</div>
<div class="n6" style="left:336.1px;top:144.50px;width:29.69999999999999px;height:9.80px;line-height:9.80px"><span>2</span></div>
<div class="n5" style="left:365.8px;top:143.40px;padding-top:1.1px;width:29.0px;height:9.80px;line-height:9.80px"><span>1</span></div>
<div class="nd dm" style="left:394.8px;top:143.40px;padding-top:1.1px;width:24.19999999999999px;height:9.80px;line-height:9.80px">-1</div>
<div class="rw" style="left:247.4px;top:153.21px;width:118.4px;height:9.80px;background:#37996a"></div>
<div class="nm" style="left:252.70000000000002px;top:154.31px;height:9.80px;line-height:9.80px">Великогаївська</div>
<div class="n6" style="left:336.1px;top:154.31px;width:29.69999999999999px;height:9.80px;line-height:9.80px"><span>2</span></div>
<div class="n5" style="left:365.8px;top:153.21px;padding-top:1.1px;width:29.0px;height:9.80px;line-height:9.80px"><span>5</span></div>
<div class="nd dp" style="left:394.8px;top:153.21px;padding-top:1.1px;width:24.19999999999999px;height:9.80px;line-height:9.80px">+3</div>
<div class="rw" style="left:247.4px;top:163.01px;width:118.4px;height:9.80px;background:#37996a"></div>
<div class="nm" style="left:252.70000000000002px;top:164.11px;height:9.80px;line-height:9.80px">Байковецька</div>
<div class="n6" style="left:336.1px;top:164.11px;width:29.69999999999999px;height:9.80px;line-height:9.80px"><span>4</span></div>
<div class="n5" style="left:365.8px;top:163.01px;padding-top:1.1px;width:29.0px;height:9.80px;line-height:9.80px"><span>4</span></div>
<div class="nd dz" style="left:394.8px;top:163.01px;padding-top:1.1px;width:24.19999999999999px;height:9.80px;line-height:9.80px">-</div>
<div class="rw" style="left:247.4px;top:172.81px;width:118.4px;height:9.80px;background:#37996a"></div>
<div class="nm" style="left:252.70000000000002px;top:173.91px;height:9.80px;line-height:9.80px">Великоберезовицька</div>
<div class="n6" style="left:336.1px;top:173.91px;width:29.69999999999999px;height:9.80px;line-height:9.80px"><span>5</span></div>
<div class="n5" style="left:365.8px;top:172.81px;padding-top:1.1px;width:29.0px;height:9.80px;line-height:9.80px"><span>8</span></div>
<div class="nd dp" style="left:394.8px;top:172.81px;padding-top:1.1px;width:24.19999999999999px;height:9.80px;line-height:9.80px">+3</div>
<div class="rw" style="left:247.4px;top:182.62px;width:118.4px;height:9.80px;background:#37996a"></div>
<div class="nm" style="left:252.70000000000002px;top:183.72px;height:9.80px;line-height:9.80px">Підгороднянська</div>
<div class="n6" style="left:336.1px;top:183.72px;width:29.69999999999999px;height:9.80px;line-height:9.80px"><span>6</span></div>
<div class="n5" style="left:365.8px;top:182.62px;padding-top:1.1px;width:29.0px;height:9.80px;line-height:9.80px"><span>6</span></div>
<div class="nd dz" style="left:394.8px;top:182.62px;padding-top:1.1px;width:24.19999999999999px;height:9.80px;line-height:9.80px">-</div>
<div class="rw" style="left:247.4px;top:192.42px;width:118.4px;height:9.80px;background:#37996a"></div>
<div class="nm" style="left:252.70000000000002px;top:193.52px;height:9.80px;line-height:9.80px">Підволочиська</div>
<div class="n6" style="left:336.1px;top:193.52px;width:29.69999999999999px;height:9.80px;line-height:9.80px"><span>7</span></div>
<div class="n5" style="left:365.8px;top:192.42px;padding-top:1.1px;width:29.0px;height:9.80px;line-height:9.80px"><span>7</span></div>
<div class="nd dz" style="left:394.8px;top:192.42px;padding-top:1.1px;width:24.19999999999999px;height:9.80px;line-height:9.80px">-</div>
<div class="rw" style="left:247.4px;top:202.22px;width:118.4px;height:9.80px;background:#37996a"></div>
<div class="nm" style="left:252.70000000000002px;top:203.32px;height:9.80px;line-height:9.80px">Борщівська</div>
<div class="n6" style="left:336.1px;top:203.32px;width:29.69999999999999px;height:9.80px;line-height:9.80px"><span>8</span></div>
<div class="n5" style="left:365.8px;top:202.22px;padding-top:1.1px;width:29.0px;height:9.80px;line-height:9.80px"><span>1</span></div>
<div class="nd dm" style="left:394.8px;top:202.22px;padding-top:1.1px;width:24.19999999999999px;height:9.80px;line-height:9.80px">-7</div>
<div class="rw" style="left:247.4px;top:212.03px;width:118.4px;height:9.80px;background:#37996a"></div>
<div class="nm" style="left:252.70000000000002px;top:213.13px;height:9.80px;line-height:9.80px">Почаївська</div>
<div class="n6" style="left:336.1px;top:213.13px;width:29.69999999999999px;height:9.80px;line-height:9.80px"><span>9</span></div>
<div class="n5" style="left:365.8px;top:212.03px;padding-top:1.1px;width:29.0px;height:9.80px;line-height:9.80px"><span>10</span></div>
<div class="nd dp" style="left:394.8px;top:212.03px;padding-top:1.1px;width:24.19999999999999px;height:9.80px;line-height:9.80px">+1</div>
<div class="rw" style="left:247.4px;top:221.83px;width:118.4px;height:9.80px;background:#37996a"></div>
<div class="nm" style="left:252.70000000000002px;top:222.93px;height:9.80px;line-height:9.80px">Васильковецька</div>
<div class="n6" style="left:336.1px;top:222.93px;width:29.69999999999999px;height:9.80px;line-height:9.80px"><span>10</span></div>
<div class="n5" style="left:365.8px;top:221.83px;padding-top:1.1px;width:29.0px;height:9.80px;line-height:9.80px"><span>17</span></div>
<div class="nd dp" style="left:394.8px;top:221.83px;padding-top:1.1px;width:24.19999999999999px;height:9.80px;line-height:9.80px">+7</div>
<div class="rw" style="left:247.4px;top:231.64px;width:118.4px;height:9.80px;background:#0acc62"></div>
<div class="nm" style="left:252.70000000000002px;top:232.74px;height:9.80px;line-height:9.80px">Копичинецька</div>
<div class="n6" style="left:336.1px;top:232.74px;width:29.69999999999999px;height:9.80px;line-height:9.80px"><span>11</span></div>
<div class="n5" style="left:365.8px;top:231.64px;padding-top:1.1px;width:29.0px;height:9.80px;line-height:9.80px"><span>11</span></div>
<div class="nd dz" style="left:394.8px;top:231.64px;padding-top:1.1px;width:24.19999999999999px;height:9.80px;line-height:9.80px">-</div>
<div class="rw" style="left:247.4px;top:241.44px;width:118.4px;height:9.80px;background:#0acc62"></div>
<div class="nm" style="left:252.70000000000002px;top:242.54px;height:9.80px;line-height:9.80px">Микулинецька</div>
<div class="n6" style="left:336.1px;top:242.54px;width:29.69999999999999px;height:9.80px;line-height:9.80px"><span>12</span></div>
<div class="n5" style="left:365.8px;top:241.44px;padding-top:1.1px;width:29.0px;height:9.80px;line-height:9.80px"><span>15</span></div>
<div class="nd dp" style="left:394.8px;top:241.44px;padding-top:1.1px;width:24.19999999999999px;height:9.80px;line-height:9.80px">+3</div>
<div class="rw" style="left:247.4px;top:251.24px;width:118.4px;height:9.80px;background:#0acc62"></div>
<div class="nm" style="left:252.70000000000002px;top:252.34px;height:9.80px;line-height:9.80px">Іванівська</div>
<div class="n6" style="left:336.1px;top:252.34px;width:29.69999999999999px;height:9.80px;line-height:9.80px"><span>13</span></div>
<div class="n5" style="left:365.8px;top:251.24px;padding-top:1.1px;width:29.0px;height:9.80px;line-height:9.80px"><span>12</span></div>
<div class="nd dm" style="left:394.8px;top:251.24px;padding-top:1.1px;width:24.19999999999999px;height:9.80px;line-height:9.80px">-1</div>
<div class="rw" style="left:247.4px;top:261.05px;width:118.4px;height:9.80px;background:#0acc62"></div>
<div class="nm" style="left:252.70000000000002px;top:262.15px;height:9.80px;line-height:9.80px">Лановецька</div>
<div class="n6" style="left:336.1px;top:262.15px;width:29.69999999999999px;height:9.80px;line-height:9.80px"><span>14</span></div>
<div class="n5" style="left:365.8px;top:261.05px;padding-top:1.1px;width:29.0px;height:9.80px;line-height:9.80px"><span>3</span></div>
<div class="nd dm" style="left:394.8px;top:261.05px;padding-top:1.1px;width:24.19999999999999px;height:9.80px;line-height:9.80px">-11</div>
<div class="rw" style="left:247.4px;top:270.85px;width:118.4px;height:9.80px;background:#0acc62"></div>
<div class="nm" style="left:252.70000000000002px;top:271.95px;height:9.80px;line-height:9.80px">Заліщицька</div>
<div class="n6" style="left:336.1px;top:271.95px;width:29.69999999999999px;height:9.80px;line-height:9.80px"><span>15</span></div>
<div class="n5" style="left:365.8px;top:270.85px;padding-top:1.1px;width:29.0px;height:9.80px;line-height:9.80px"><span>19</span></div>
<div class="nd dp" style="left:394.8px;top:270.85px;padding-top:1.1px;width:24.19999999999999px;height:9.80px;line-height:9.80px">+4</div>
<div class="rw" style="left:247.4px;top:280.65px;width:118.4px;height:9.80px;background:#0acc62"></div>
<div class="nm" style="left:252.70000000000002px;top:281.75px;height:9.80px;line-height:9.80px">Гусятинська</div>
<div class="n6" style="left:336.1px;top:281.75px;width:29.69999999999999px;height:9.80px;line-height:9.80px"><span>16</span></div>
<div class="n5" style="left:365.8px;top:280.65px;padding-top:1.1px;width:29.0px;height:9.80px;line-height:9.80px"><span>20</span></div>
<div class="nd dp" style="left:394.8px;top:280.65px;padding-top:1.1px;width:24.19999999999999px;height:9.80px;line-height:9.80px">+4</div>
<div class="rw" style="left:247.4px;top:290.46px;width:118.4px;height:9.80px;background:#0acc62"></div>
<div class="nm" style="left:252.70000000000002px;top:291.56px;height:9.80px;line-height:9.80px">Теребовлянська</div>
<div class="n6" style="left:336.1px;top:291.56px;width:29.69999999999999px;height:9.80px;line-height:9.80px"><span>17</span></div>
<div class="n5" style="left:365.8px;top:290.46px;padding-top:1.1px;width:29.0px;height:9.80px;line-height:9.80px"><span>18</span></div>
<div class="nd dp" style="left:394.8px;top:290.46px;padding-top:1.1px;width:24.19999999999999px;height:9.80px;line-height:9.80px">+1</div>
<div class="rw" style="left:247.4px;top:300.26px;width:118.4px;height:9.80px;background:#0acc62"></div>
<div class="nm" style="left:252.70000000000002px;top:301.36px;height:9.80px;line-height:9.80px">Кременецька</div>
<div class="n6" style="left:336.1px;top:301.36px;width:29.69999999999999px;height:9.80px;line-height:9.80px"><span>18</span></div>
<div class="n5" style="left:365.8px;top:300.26px;padding-top:1.1px;width:29.0px;height:9.80px;line-height:9.80px"><span>22</span></div>
<div class="nd dp" style="left:394.8px;top:300.26px;padding-top:1.1px;width:24.19999999999999px;height:9.80px;line-height:9.80px">+4</div>
<div class="rw" style="left:247.4px;top:310.06px;width:118.4px;height:9.80px;background:#0acc62"></div>
<div class="nm" style="left:252.70000000000002px;top:311.16px;height:9.80px;line-height:9.80px">Чортківська</div>
<div class="n6" style="left:336.1px;top:311.16px;width:29.69999999999999px;height:9.80px;line-height:9.80px"><span>19</span></div>
<div class="n5" style="left:365.8px;top:310.06px;padding-top:1.1px;width:29.0px;height:9.80px;line-height:9.80px"><span>16</span></div>
<div class="nd dm" style="left:394.8px;top:310.06px;padding-top:1.1px;width:24.19999999999999px;height:9.80px;line-height:9.80px">-3</div>
<div class="rw" style="left:247.4px;top:319.87px;width:118.4px;height:9.80px;background:#0acc62"></div>
<div class="nm" style="left:252.70000000000002px;top:320.97px;height:9.80px;line-height:9.80px">Борсуківська</div>
<div class="n6" style="left:336.1px;top:320.97px;width:29.69999999999999px;height:9.80px;line-height:9.80px"><span>20</span></div>
<div class="n5" style="left:365.8px;top:319.87px;padding-top:1.1px;width:29.0px;height:9.80px;line-height:9.80px"><span>30</span></div>
<div class="nd dp" style="left:394.8px;top:319.87px;padding-top:1.1px;width:24.19999999999999px;height:9.80px;line-height:9.80px">+10</div>
<div class="rw" style="left:247.4px;top:329.67px;width:118.4px;height:9.80px;background:#ecebe6"></div>
<div class="nm" style="left:252.70000000000002px;top:330.77px;height:9.80px;line-height:9.80px">Трибухівська</div>
<div class="n6" style="left:336.1px;top:330.77px;width:29.69999999999999px;height:9.80px;line-height:9.80px"><span>21</span></div>
<div class="n5" style="left:365.8px;top:329.67px;padding-top:1.1px;width:29.0px;height:9.80px;line-height:9.80px"><span>13</span></div>
<div class="nd dm" style="left:394.8px;top:329.67px;padding-top:1.1px;width:24.19999999999999px;height:9.80px;line-height:9.80px">-8</div>
<div class="rw" style="left:247.4px;top:339.48px;width:118.4px;height:9.80px;background:#ecebe6"></div>
<div class="nm" style="left:252.70000000000002px;top:340.58px;height:9.80px;line-height:9.80px">Хоростківська</div>
<div class="n6" style="left:336.1px;top:340.58px;width:29.69999999999999px;height:9.80px;line-height:9.80px"><span>22</span></div>
<div class="n5" style="left:365.8px;top:339.48px;padding-top:1.1px;width:29.0px;height:9.80px;line-height:9.80px"><span>14</span></div>
<div class="nd dm" style="left:394.8px;top:339.48px;padding-top:1.1px;width:24.19999999999999px;height:9.80px;line-height:9.80px">-8</div>
<div class="rw" style="left:247.4px;top:349.28px;width:118.4px;height:9.80px;background:#ecebe6"></div>
<div class="nm" style="left:252.70000000000002px;top:350.38px;height:9.80px;line-height:9.80px">Вишнівецька</div>
<div class="n6" style="left:336.1px;top:350.38px;width:29.69999999999999px;height:9.80px;line-height:9.80px"><span>23</span></div>
<div class="n5" style="left:365.8px;top:349.28px;padding-top:1.1px;width:29.0px;height:9.80px;line-height:9.80px"><span>26</span></div>
<div class="nd dp" style="left:394.8px;top:349.28px;padding-top:1.1px;width:24.19999999999999px;height:9.80px;line-height:9.80px">+3</div>
<div class="rw" style="left:247.4px;top:359.08px;width:118.4px;height:9.80px;background:#ecebe6"></div>
<div class="nm" style="left:252.70000000000002px;top:360.18px;height:9.80px;line-height:9.80px">Нараївська</div>
<div class="n6" style="left:336.1px;top:360.18px;width:29.69999999999999px;height:9.80px;line-height:9.80px"><span>24</span></div>
<div class="n5" style="left:365.8px;top:359.08px;padding-top:1.1px;width:29.0px;height:9.80px;line-height:9.80px"><span>47</span></div>
<div class="nd dp" style="left:394.8px;top:359.08px;padding-top:1.1px;width:24.19999999999999px;height:9.80px;line-height:9.80px">+23</div>
<div class="rw" style="left:247.4px;top:368.89px;width:118.4px;height:9.80px;background:#ecebe6"></div>
<div class="nm" style="left:252.70000000000002px;top:369.99px;height:9.80px;line-height:9.80px">Скориківська</div>
<div class="n6" style="left:336.1px;top:369.99px;width:29.69999999999999px;height:9.80px;line-height:9.80px"><span>25</span></div>
<div class="n5" style="left:365.8px;top:368.89px;padding-top:1.1px;width:29.0px;height:9.80px;line-height:9.80px"><span>25</span></div>
<div class="nd dz" style="left:394.8px;top:368.89px;padding-top:1.1px;width:24.19999999999999px;height:9.80px;line-height:9.80px">-</div>
<div class="rw" style="left:247.4px;top:378.69px;width:118.4px;height:9.80px;background:#ecebe6"></div>
<div class="nm" style="left:252.70000000000002px;top:379.79px;height:9.80px;line-height:9.80px">Збаразька</div>
<div class="n6" style="left:336.1px;top:379.79px;width:29.69999999999999px;height:9.80px;line-height:9.80px"><span>26</span></div>
<div class="n5" style="left:365.8px;top:378.69px;padding-top:1.1px;width:29.0px;height:9.80px;line-height:9.80px"><span>24</span></div>
<div class="nd dm" style="left:394.8px;top:378.69px;padding-top:1.1px;width:24.19999999999999px;height:9.80px;line-height:9.80px">-2</div>
<div class="rw" style="left:247.4px;top:388.49px;width:118.4px;height:9.80px;background:#ecebe6"></div>
<div class="nm" style="left:252.70000000000002px;top:389.59px;height:9.80px;line-height:9.80px">Озернянська</div>
<div class="n6" style="left:336.1px;top:389.59px;width:29.69999999999999px;height:9.80px;line-height:9.80px"><span>27</span></div>
<div class="n5" style="left:365.8px;top:388.49px;padding-top:1.1px;width:29.0px;height:9.80px;line-height:9.80px"><span>29</span></div>
<div class="nd dp" style="left:394.8px;top:388.49px;padding-top:1.1px;width:24.19999999999999px;height:9.80px;line-height:9.80px">+2</div>
<div class="rw" style="left:247.4px;top:398.30px;width:118.4px;height:9.80px;background:#ecebe6"></div>
<div class="nm" style="left:252.70000000000002px;top:399.40px;height:9.80px;line-height:9.80px">Білобожницька</div>
<div class="n6" style="left:336.1px;top:399.40px;width:29.69999999999999px;height:9.80px;line-height:9.80px"><span>28</span></div>
<div class="n5" style="left:365.8px;top:398.30px;padding-top:1.1px;width:29.0px;height:9.80px;line-height:9.80px"><span>21</span></div>
<div class="nd dm" style="left:394.8px;top:398.30px;padding-top:1.1px;width:24.19999999999999px;height:9.80px;line-height:9.80px">-7</div>
<div class="vl" style="left:246.9px;top:81.7px;height:326.40000000000003px"></div>
<div class="vl" style="left:335.6px;top:81.7px;height:326.40000000000003px"></div>
<div class="vl" style="left:394.3px;top:81.7px;height:326.40000000000003px"></div>
<div class="vl" style="left:418.5px;top:81.7px;height:326.40000000000003px"></div>
<div class="vl" style="left:365.3px;top:105.5px;height:302.6px"></div>
<div class="hl" style="left:247.4px;top:81.2px;width:171.6px"></div>
<div class="hl" style="left:336.1px;top:105.0px;width:58.69999999999999px"></div>
<div class="hl" style="left:247.4px;top:133px;width:171.6px"></div>
<div class="hl" style="left:247.4px;top:143px;width:171.6px"></div>
<div class="hl" style="left:247.4px;top:153px;width:171.6px"></div>
<div class="hl" style="left:247.4px;top:163px;width:171.6px"></div>
<div class="hl" style="left:247.4px;top:172px;width:171.6px"></div>
<div class="hl" style="left:247.4px;top:182px;width:171.6px"></div>
<div class="hl" style="left:247.4px;top:192px;width:171.6px"></div>
<div class="hl" style="left:247.4px;top:202px;width:171.6px"></div>
<div class="hl" style="left:247.4px;top:212px;width:171.6px"></div>
<div class="hl" style="left:247.4px;top:221px;width:171.6px"></div>
<div class="hl" style="left:247.4px;top:231px;width:171.6px"></div>
<div class="hl" style="left:247.4px;top:241px;width:171.6px"></div>
<div class="hl" style="left:247.4px;top:251px;width:171.6px"></div>
<div class="hl" style="left:247.4px;top:261px;width:171.6px"></div>
<div class="hl" style="left:247.4px;top:270px;width:171.6px"></div>
<div class="hl" style="left:247.4px;top:280px;width:171.6px"></div>
<div class="hl" style="left:247.4px;top:290px;width:171.6px"></div>
<div class="hl" style="left:247.4px;top:300px;width:171.6px"></div>
<div class="hl" style="left:247.4px;top:310px;width:171.6px"></div>
<div class="hl" style="left:247.4px;top:319px;width:171.6px"></div>
<div class="hl" style="left:247.4px;top:329px;width:171.6px"></div>
<div class="hl" style="left:247.4px;top:339px;width:171.6px"></div>
<div class="hl" style="left:247.4px;top:349px;width:171.6px"></div>
<div class="hl" style="left:247.4px;top:359px;width:171.6px"></div>
<div class="hl" style="left:247.4px;top:368px;width:171.6px"></div>
<div class="hl" style="left:247.4px;top:378px;width:171.6px"></div>
<div class="hl" style="left:247.4px;top:388px;width:171.6px"></div>
<div class="hl" style="left:247.4px;top:398px;width:171.6px"></div>
<div class="hl" style="left:247.4px;top:408px;width:171.6px"></div>
<div class="hd" style="left:434.2px;top:81.7px;width:171.50000000000006px;height:51.7px"></div>
<div class="ht" style="left:434.2px;top:81.7px;width:88.00000000000006px;height:51.7px"><span>Територіальні<br>громади</span></div>
<div class="ht" style="left:522.2px;top:81.7px;width:59.299999999999955px;height:23.799999999999997px"><span>Загальне місце<br>громади</span></div>
<div class="ht" style="left:522.2px;top:105.5px;width:29.59999999999991px;height:27.900000000000006px"><span>6 міс.<br>2025</span></div>
<div class="ht" style="left:551.8px;top:105.5px;width:29.700000000000045px;height:27.900000000000006px"><span>5 міс.<br>2025</span></div>
<div class="dyn" style="left:581.5px;top:81.7px;width:24.200000000000045px;height:51.7px"><span>Динаміка</span></div>
<div class="rw" style="left:434.2px;top:133.40px;width:117.59999999999997px;height:9.89px;background:#ecebe6"></div>
<div class="nm" style="left:439.5px;top:134.50px;height:9.89px;line-height:9.89px">Білецька</div>
<div class="n6" style="left:522.2px;top:134.50px;width:29.59999999999991px;height:9.89px;line-height:9.89px"><span>29</span></div>
<div class="n5" style="left:551.8px;top:133.40px;padding-top:1.1px;width:29.700000000000045px;height:9.89px;line-height:9.89px"><span>27</span></div>
<div class="nd dm" style="left:581.5px;top:133.40px;padding-top:1.1px;width:24.200000000000045px;height:9.89px;line-height:9.89px">-2</div>
<div class="rw" style="left:434.2px;top:143.29px;width:117.59999999999997px;height:9.89px;background:#ecebe6"></div>
<div class="nm" style="left:439.5px;top:144.39px;height:9.89px;line-height:9.89px">Лопушненська</div>
<div class="n6" style="left:522.2px;top:144.39px;width:29.59999999999991px;height:9.89px;line-height:9.89px"><span>30</span></div>
<div class="n5" style="left:551.8px;top:143.29px;padding-top:1.1px;width:29.700000000000045px;height:9.89px;line-height:9.89px"><span>37</span></div>
<div class="nd dp" style="left:581.5px;top:143.29px;padding-top:1.1px;width:24.200000000000045px;height:9.89px;line-height:9.89px">+7</div>
<div class="rw" style="left:434.2px;top:153.19px;width:117.59999999999997px;height:9.89px;background:#ecebe6"></div>
<div class="nm" style="left:439.5px;top:154.29px;height:9.89px;line-height:9.89px">Зборівська</div>
<div class="n6" style="left:522.2px;top:154.29px;width:29.59999999999991px;height:9.89px;line-height:9.89px"><span>31</span></div>
<div class="n5" style="left:551.8px;top:153.19px;padding-top:1.1px;width:29.700000000000045px;height:9.89px;line-height:9.89px"><span>32</span></div>
<div class="nd dp" style="left:581.5px;top:153.19px;padding-top:1.1px;width:24.200000000000045px;height:9.89px;line-height:9.89px">+1</div>
<div class="rw" style="left:434.2px;top:163.08px;width:117.59999999999997px;height:9.89px;background:#ecebe6"></div>
<div class="nm" style="left:439.5px;top:164.18px;height:9.89px;line-height:9.89px">Гримайлівська</div>
<div class="n6" style="left:522.2px;top:164.18px;width:29.59999999999991px;height:9.89px;line-height:9.89px"><span>32</span></div>
<div class="n5" style="left:551.8px;top:163.08px;padding-top:1.1px;width:29.700000000000045px;height:9.89px;line-height:9.89px"><span>23</span></div>
<div class="nd dm" style="left:581.5px;top:163.08px;padding-top:1.1px;width:24.200000000000045px;height:9.89px;line-height:9.89px">-9</div>
<div class="rw" style="left:434.2px;top:172.97px;width:117.59999999999997px;height:9.89px;background:#ecebe6"></div>
<div class="nm" style="left:439.5px;top:174.07px;height:9.89px;line-height:9.89px">Великобірківська</div>
<div class="n6" style="left:522.2px;top:174.07px;width:29.59999999999991px;height:9.89px;line-height:9.89px"><span>33</span></div>
<div class="n5" style="left:551.8px;top:172.97px;padding-top:1.1px;width:29.700000000000045px;height:9.89px;line-height:9.89px"><span>37</span></div>
<div class="nd dp" style="left:581.5px;top:172.97px;padding-top:1.1px;width:24.200000000000045px;height:9.89px;line-height:9.89px">+4</div>
<div class="rw" style="left:434.2px;top:182.86px;width:117.59999999999997px;height:9.89px;background:#ecebe6"></div>
<div class="nm" style="left:439.5px;top:183.96px;height:9.89px;line-height:9.89px">Золотниківська</div>
<div class="n6" style="left:522.2px;top:183.96px;width:29.59999999999991px;height:9.89px;line-height:9.89px"><span>34</span></div>
<div class="n5" style="left:551.8px;top:182.86px;padding-top:1.1px;width:29.700000000000045px;height:9.89px;line-height:9.89px"><span>35</span></div>
<div class="nd dp" style="left:581.5px;top:182.86px;padding-top:1.1px;width:24.200000000000045px;height:9.89px;line-height:9.89px">+1</div>
<div class="rw" style="left:434.2px;top:192.76px;width:117.59999999999997px;height:9.89px;background:#ecebe6"></div>
<div class="nm" style="left:439.5px;top:193.86px;height:9.89px;line-height:9.89px">Підгаєцька</div>
<div class="n6" style="left:522.2px;top:193.86px;width:29.59999999999991px;height:9.89px;line-height:9.89px"><span>35</span></div>
<div class="n5" style="left:551.8px;top:192.76px;padding-top:1.1px;width:29.700000000000045px;height:9.89px;line-height:9.89px"><span>37</span></div>
<div class="nd dp" style="left:581.5px;top:192.76px;padding-top:1.1px;width:24.200000000000045px;height:9.89px;line-height:9.89px">+2</div>
<div class="rw" style="left:434.2px;top:202.65px;width:117.59999999999997px;height:9.89px;background:#f89a3c"></div>
<div class="nm" style="left:439.5px;top:203.75px;height:9.89px;line-height:9.89px">Великодедеркальська</div>
<div class="n6" style="left:522.2px;top:203.75px;width:29.59999999999991px;height:9.89px;line-height:9.89px"><span>36</span></div>
<div class="n5" style="left:551.8px;top:202.65px;padding-top:1.1px;width:29.700000000000045px;height:9.89px;line-height:9.89px"><span>31</span></div>
<div class="nd dm" style="left:581.5px;top:202.65px;padding-top:1.1px;width:24.200000000000045px;height:9.89px;line-height:9.89px">-5</div>
<div class="rw" style="left:434.2px;top:212.54px;width:117.59999999999997px;height:9.89px;background:#f89a3c"></div>
<div class="nm" style="left:439.5px;top:213.64px;height:9.89px;line-height:9.89px">Бучацька</div>
<div class="n6" style="left:522.2px;top:213.64px;width:29.59999999999991px;height:9.89px;line-height:9.89px"><span>37</span></div>
<div class="n5" style="left:551.8px;top:212.54px;padding-top:1.1px;width:29.700000000000045px;height:9.89px;line-height:9.89px"><span>27</span></div>
<div class="nd dm" style="left:581.5px;top:212.54px;padding-top:1.1px;width:24.200000000000045px;height:9.89px;line-height:9.89px">-10</div>
<div class="rw" style="left:434.2px;top:222.43px;width:117.59999999999997px;height:9.89px;background:#f89a3c"></div>
<div class="nm" style="left:439.5px;top:223.53px;height:9.89px;line-height:9.89px">Купчинецька</div>
<div class="n6" style="left:522.2px;top:223.53px;width:29.59999999999991px;height:9.89px;line-height:9.89px"><span>38</span></div>
<div class="n5" style="left:551.8px;top:222.43px;padding-top:1.1px;width:29.700000000000045px;height:9.89px;line-height:9.89px"><span>45</span></div>
<div class="nd dp" style="left:581.5px;top:222.43px;padding-top:1.1px;width:24.200000000000045px;height:9.89px;line-height:9.89px">+7</div>
<div class="rw" style="left:434.2px;top:232.33px;width:117.59999999999997px;height:9.89px;background:#f89a3c"></div>
<div class="nm" style="left:439.5px;top:233.43px;height:9.89px;line-height:9.89px">Заводська</div>
<div class="n6" style="left:522.2px;top:233.43px;width:29.59999999999991px;height:9.89px;line-height:9.89px"><span>39</span></div>
<div class="n5" style="left:551.8px;top:232.33px;padding-top:1.1px;width:29.700000000000045px;height:9.89px;line-height:9.89px"><span>33</span></div>
<div class="nd dm" style="left:581.5px;top:232.33px;padding-top:1.1px;width:24.200000000000045px;height:9.89px;line-height:9.89px">-6</div>
<div class="rw" style="left:434.2px;top:242.22px;width:117.59999999999997px;height:9.89px;background:#f89a3c"></div>
<div class="nm" style="left:439.5px;top:243.32px;height:9.89px;line-height:9.89px">Нагірянська</div>
<div class="n6" style="left:522.2px;top:243.32px;width:29.59999999999991px;height:9.89px;line-height:9.89px"><span>40</span></div>
<div class="n5" style="left:551.8px;top:242.22px;padding-top:1.1px;width:29.700000000000045px;height:9.89px;line-height:9.89px"><span>36</span></div>
<div class="nd dm" style="left:581.5px;top:242.22px;padding-top:1.1px;width:24.200000000000045px;height:9.89px;line-height:9.89px">-4</div>
<div class="rw" style="left:434.2px;top:252.11px;width:117.59999999999997px;height:9.89px;background:#f89a3c"></div>
<div class="nm" style="left:439.5px;top:253.21px;height:9.89px;line-height:9.89px">Бережанська</div>
<div class="n6" style="left:522.2px;top:253.21px;width:29.59999999999991px;height:9.89px;line-height:9.89px"><span>41</span></div>
<div class="n5" style="left:551.8px;top:252.11px;padding-top:1.1px;width:29.700000000000045px;height:9.89px;line-height:9.89px"><span>43</span></div>
<div class="nd dp" style="left:581.5px;top:252.11px;padding-top:1.1px;width:24.200000000000045px;height:9.89px;line-height:9.89px">+2</div>
<div class="rw" style="left:434.2px;top:262.00px;width:117.59999999999997px;height:9.89px;background:#f89a3c"></div>
<div class="nm" style="left:439.5px;top:263.10px;height:9.89px;line-height:9.89px">Більче-Золотецька</div>
<div class="n6" style="left:522.2px;top:263.10px;width:29.59999999999991px;height:9.89px;line-height:9.89px"><span>42</span></div>
<div class="n5" style="left:551.8px;top:262.00px;padding-top:1.1px;width:29.700000000000045px;height:9.89px;line-height:9.89px"><span>34</span></div>
<div class="nd dm" style="left:581.5px;top:262.00px;padding-top:1.1px;width:24.200000000000045px;height:9.89px;line-height:9.89px">-8</div>
<div class="rw" style="left:434.2px;top:271.90px;width:117.59999999999997px;height:9.89px;background:#f89a3c"></div>
<div class="nm" style="left:439.5px;top:273.00px;height:9.89px;line-height:9.89px">Іване-Пустенська</div>
<div class="n6" style="left:522.2px;top:273.00px;width:29.59999999999991px;height:9.89px;line-height:9.89px"><span>43</span></div>
<div class="n5" style="left:551.8px;top:271.90px;padding-top:1.1px;width:29.700000000000045px;height:9.89px;line-height:9.89px"><span>42</span></div>
<div class="nd dm" style="left:581.5px;top:271.90px;padding-top:1.1px;width:24.200000000000045px;height:9.89px;line-height:9.89px">-1</div>
<div class="rw" style="left:434.2px;top:281.79px;width:117.59999999999997px;height:9.89px;background:#f89a3c"></div>
<div class="nm" style="left:439.5px;top:282.89px;height:9.89px;line-height:9.89px">Саранчуківська</div>
<div class="n6" style="left:522.2px;top:282.89px;width:29.59999999999991px;height:9.89px;line-height:9.89px"><span>44</span></div>
<div class="n5" style="left:551.8px;top:281.79px;padding-top:1.1px;width:29.700000000000045px;height:9.89px;line-height:9.89px"><span>40</span></div>
<div class="nd dm" style="left:581.5px;top:281.79px;padding-top:1.1px;width:24.200000000000045px;height:9.89px;line-height:9.89px">-4</div>
<div class="rw" style="left:434.2px;top:291.68px;width:117.59999999999997px;height:9.89px;background:#f89a3c"></div>
<div class="nm" style="left:439.5px;top:292.78px;height:9.89px;line-height:9.89px">Товстенська</div>
<div class="n6" style="left:522.2px;top:292.78px;width:29.59999999999991px;height:9.89px;line-height:9.89px"><span>45</span></div>
<div class="n5" style="left:551.8px;top:291.68px;padding-top:1.1px;width:29.700000000000045px;height:9.89px;line-height:9.89px"><span>41</span></div>
<div class="nd dm" style="left:581.5px;top:291.68px;padding-top:1.1px;width:24.200000000000045px;height:9.89px;line-height:9.89px">-4</div>
<div class="rw" style="left:434.2px;top:301.57px;width:117.59999999999997px;height:9.89px;background:#d9400f"></div>
<div class="nm" style="left:439.5px;top:302.67px;height:9.89px;line-height:9.89px">Скала-Подільська</div>
<div class="n6" style="left:522.2px;top:302.67px;width:29.59999999999991px;height:9.89px;line-height:9.89px"><span>46</span></div>
<div class="n5" style="left:551.8px;top:301.57px;padding-top:1.1px;width:29.700000000000045px;height:9.89px;line-height:9.89px"><span>49</span></div>
<div class="nd dp" style="left:581.5px;top:301.57px;padding-top:1.1px;width:24.200000000000045px;height:9.89px;line-height:9.89px">+3</div>
<div class="rw" style="left:434.2px;top:311.47px;width:117.59999999999997px;height:9.89px;background:#d9400f"></div>
<div class="nm" style="left:439.5px;top:312.57px;height:9.89px;line-height:9.89px">Скалатська</div>
<div class="n6" style="left:522.2px;top:312.57px;width:29.59999999999991px;height:9.89px;line-height:9.89px"><span>47</span></div>
<div class="n5" style="left:551.8px;top:311.47px;padding-top:1.1px;width:29.700000000000045px;height:9.89px;line-height:9.89px"><span>44</span></div>
<div class="nd dm" style="left:581.5px;top:311.47px;padding-top:1.1px;width:24.200000000000045px;height:9.89px;line-height:9.89px">-3</div>
<div class="rw" style="left:434.2px;top:321.36px;width:117.59999999999997px;height:9.89px;background:#d9400f"></div>
<div class="nm" style="left:439.5px;top:322.46px;height:9.89px;line-height:9.89px">Коропецька</div>
<div class="n6" style="left:522.2px;top:322.46px;width:29.59999999999991px;height:9.89px;line-height:9.89px"><span>48</span></div>
<div class="n5" style="left:551.8px;top:321.36px;padding-top:1.1px;width:29.700000000000045px;height:9.89px;line-height:9.89px"><span>48</span></div>
<div class="nd dz" style="left:581.5px;top:321.36px;padding-top:1.1px;width:24.200000000000045px;height:9.89px;line-height:9.89px">-</div>
<div class="rw" style="left:434.2px;top:331.25px;width:117.59999999999997px;height:9.89px;background:#d9400f"></div>
<div class="nm" style="left:439.5px;top:332.35px;height:9.89px;line-height:9.89px">Козлівська</div>
<div class="n6" style="left:522.2px;top:332.35px;width:29.59999999999991px;height:9.89px;line-height:9.89px"><span>49</span></div>
<div class="n5" style="left:551.8px;top:331.25px;padding-top:1.1px;width:29.700000000000045px;height:9.89px;line-height:9.89px"><span>53</span></div>
<div class="nd dp" style="left:581.5px;top:331.25px;padding-top:1.1px;width:24.200000000000045px;height:9.89px;line-height:9.89px">+4</div>
<div class="rw" style="left:434.2px;top:341.14px;width:117.59999999999997px;height:9.89px;background:#d9400f"></div>
<div class="nm" style="left:439.5px;top:342.24px;height:9.89px;line-height:9.89px">Колиндянська</div>
<div class="n6" style="left:522.2px;top:342.24px;width:29.59999999999991px;height:9.89px;line-height:9.89px"><span>50</span></div>
<div class="n5" style="left:551.8px;top:341.14px;padding-top:1.1px;width:29.700000000000045px;height:9.89px;line-height:9.89px"><span>50</span></div>
<div class="nd dz" style="left:581.5px;top:341.14px;padding-top:1.1px;width:24.200000000000045px;height:9.89px;line-height:9.89px">-</div>
<div class="rw" style="left:434.2px;top:351.04px;width:117.59999999999997px;height:9.89px;background:#d9400f"></div>
<div class="nm" style="left:439.5px;top:352.14px;height:9.89px;line-height:9.89px">Золотопотіцька</div>
<div class="n6" style="left:522.2px;top:352.14px;width:29.59999999999991px;height:9.89px;line-height:9.89px"><span>51</span></div>
<div class="n5" style="left:551.8px;top:351.04px;padding-top:1.1px;width:29.700000000000045px;height:9.89px;line-height:9.89px"><span>51</span></div>
<div class="nd dz" style="left:581.5px;top:351.04px;padding-top:1.1px;width:24.200000000000045px;height:9.89px;line-height:9.89px">-</div>
<div class="rw" style="left:434.2px;top:360.93px;width:117.59999999999997px;height:9.89px;background:#d9400f"></div>
<div class="nm" style="left:439.5px;top:362.03px;height:9.89px;line-height:9.89px">Залозецька</div>
<div class="n6" style="left:522.2px;top:362.03px;width:29.59999999999991px;height:9.89px;line-height:9.89px"><span>52</span></div>
<div class="n5" style="left:551.8px;top:360.93px;padding-top:1.1px;width:29.700000000000045px;height:9.89px;line-height:9.89px"><span>45</span></div>
<div class="nd dm" style="left:581.5px;top:360.93px;padding-top:1.1px;width:24.200000000000045px;height:9.89px;line-height:9.89px">-7</div>
<div class="rw" style="left:434.2px;top:370.82px;width:117.59999999999997px;height:9.89px;background:#d9400f"></div>
<div class="nm" style="left:439.5px;top:371.92px;height:9.89px;line-height:9.89px">Козівська</div>
<div class="n6" style="left:522.2px;top:371.92px;width:29.59999999999991px;height:9.89px;line-height:9.89px"><span>53</span></div>
<div class="n5" style="left:551.8px;top:370.82px;padding-top:1.1px;width:29.700000000000045px;height:9.89px;line-height:9.89px"><span>52</span></div>
<div class="nd dm" style="left:581.5px;top:370.82px;padding-top:1.1px;width:24.200000000000045px;height:9.89px;line-height:9.89px">-1</div>
<div class="rw" style="left:434.2px;top:380.71px;width:117.59999999999997px;height:9.89px;background:#d9400f"></div>
<div class="nm" style="left:439.5px;top:381.81px;height:9.89px;line-height:9.89px">Монастириська</div>
<div class="n6" style="left:522.2px;top:381.81px;width:29.59999999999991px;height:9.89px;line-height:9.89px"><span>54</span></div>
<div class="n5" style="left:551.8px;top:380.71px;padding-top:1.1px;width:29.700000000000045px;height:9.89px;line-height:9.89px"><span>55</span></div>
<div class="nd dp" style="left:581.5px;top:380.71px;padding-top:1.1px;width:24.200000000000045px;height:9.89px;line-height:9.89px">+1</div>
<div class="rw" style="left:434.2px;top:390.61px;width:117.59999999999997px;height:9.89px;background:#d9400f"></div>
<div class="nm" style="left:439.5px;top:391.71px;height:9.89px;line-height:9.89px">Мельнице-Подільська</div>
<div class="n6" style="left:522.2px;top:391.71px;width:29.59999999999991px;height:9.89px;line-height:9.89px"><span>55</span></div>
<div class="n5" style="left:551.8px;top:390.61px;padding-top:1.1px;width:29.700000000000045px;height:9.89px;line-height:9.89px"><span>54</span></div>
<div class="nd dm" style="left:581.5px;top:390.61px;padding-top:1.1px;width:24.200000000000045px;height:9.89px;line-height:9.89px">-1</div>
<div class="vl" style="left:433.7px;top:81.7px;height:318.8px"></div>
<div class="vl" style="left:521.7px;top:81.7px;height:318.8px"></div>
<div class="vl" style="left:581.0px;top:81.7px;height:318.8px"></div>
<div class="vl" style="left:605.2px;top:81.7px;height:318.8px"></div>
<div class="vl" style="left:551.3px;top:105.5px;height:295.0px"></div>
<div class="hl" style="left:434.2px;top:81.2px;width:171.50000000000006px"></div>
<div class="hl" style="left:522.2px;top:105.0px;width:59.299999999999955px"></div>
<div class="hl" style="left:434.2px;top:133px;width:171.50000000000006px"></div>
<div class="hl" style="left:434.2px;top:143px;width:171.50000000000006px"></div>
<div class="hl" style="left:434.2px;top:153px;width:171.50000000000006px"></div>
<div class="hl" style="left:434.2px;top:163px;width:171.50000000000006px"></div>
<div class="hl" style="left:434.2px;top:172px;width:171.50000000000006px"></div>
<div class="hl" style="left:434.2px;top:182px;width:171.50000000000006px"></div>
<div class="hl" style="left:434.2px;top:192px;width:171.50000000000006px"></div>
<div class="hl" style="left:434.2px;top:202px;width:171.50000000000006px"></div>
<div class="hl" style="left:434.2px;top:212px;width:171.50000000000006px"></div>
<div class="hl" style="left:434.2px;top:222px;width:171.50000000000006px"></div>
<div class="hl" style="left:434.2px;top:232px;width:171.50000000000006px"></div>
<div class="hl" style="left:434.2px;top:242px;width:171.50000000000006px"></div>
<div class="hl" style="left:434.2px;top:252px;width:171.50000000000006px"></div>
<div class="hl" style="left:434.2px;top:262px;width:171.50000000000006px"></div>
<div class="hl" style="left:434.2px;top:271px;width:171.50000000000006px"></div>
<div class="hl" style="left:434.2px;top:281px;width:171.50000000000006px"></div>
<div class="hl" style="left:434.2px;top:291px;width:171.50000000000006px"></div>
<div class="hl" style="left:434.2px;top:301px;width:171.50000000000006px"></div>
<div class="hl" style="left:434.2px;top:311px;width:171.50000000000006px"></div>
<div class="hl" style="left:434.2px;top:321px;width:171.50000000000006px"></div>
<div class="hl" style="left:434.2px;top:331px;width:171.50000000000006px"></div>
<div class="hl" style="left:434.2px;top:341px;width:171.50000000000006px"></div>
<div class="hl" style="left:434.2px;top:351px;width:171.50000000000006px"></div>
<div class="hl" style="left:434.2px;top:360px;width:171.50000000000006px"></div>
<div class="hl" style="left:434.2px;top:370px;width:171.50000000000006px"></div>
<div class="hl" style="left:434.2px;top:380px;width:171.50000000000006px"></div>
<div class="hl" style="left:434.2px;top:390px;width:171.50000000000006px"></div>
<div class="hl" style="left:434.2px;top:400px;width:171.50000000000006px"></div>
<div style="left:580.5px;top:445px;font-size:9.5px;line-height:11px;color:#8a8a8a;font-weight:bold">2</div>
</body></html>
